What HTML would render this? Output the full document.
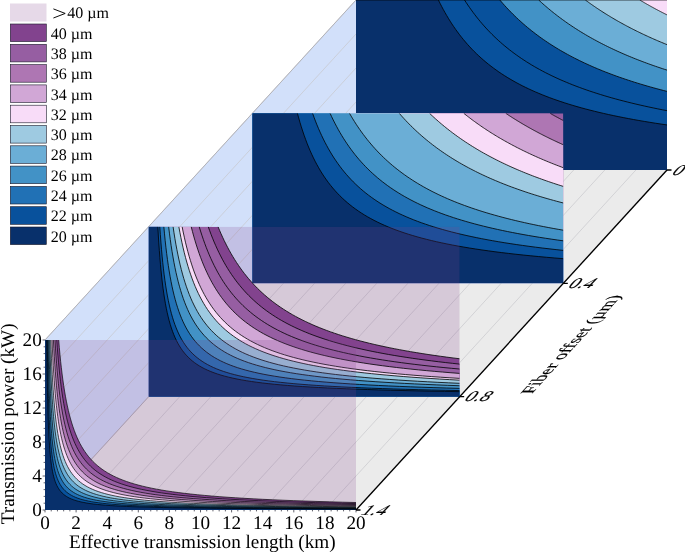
<!DOCTYPE html>
<html><head><meta charset="utf-8"><title>chart</title>
<style>html,body{margin:0;padding:0;background:#fff}body{width:685px;height:552px;overflow:hidden}svg{display:block;will-change:transform}text{font-family:"Liberation Serif",serif;fill:#000;text-rendering:geometricPrecision}</style></head><body>
<svg width="685" height="552" viewBox="0 0 685 552">
<rect width="685" height="552" fill="#fff"/>
<path d="M45 340 L45 510 L356 170 L356 0Z" fill="#d2e0fa"/>
<path d="M45 510 L356 510 L667 170 L356 170Z" fill="#ebebeb"/>
<path d="M45 510 L356 170 M45 476 L356 136 M45 442 L356 102 M45 408 L356 68 M45 374 L356 34 M45 340 L356 0 M76.1 510 L387.1 170 M107.2 510 L418.2 170 M138.3 510 L449.3 170 M169.4 510 L480.4 170 M200.5 510 L511.5 170 M231.6 510 L542.6 170 M262.7 510 L573.7 170 M293.8 510 L604.8 170 M324.9 510 L635.9 170 M356 510 L667 170" fill="none" stroke="#c7c7cb" stroke-width="0.7"/>
<path d="M45 340 L356 0 M45 510 L356 170" fill="none" stroke="#a9a9b0" stroke-width="0.8"/>
<defs>
<clipPath id="c0"><rect x="45" y="340" width="311" height="170"/></clipPath>
<clipPath id="c1"><rect x="148.67" y="226.67" width="311" height="170"/></clipPath>
<clipPath id="c2"><rect x="252.33" y="113.33" width="311" height="170"/></clipPath>
<clipPath id="c3"><rect x="356" y="0" width="311" height="170"/></clipPath>
</defs>
<g clip-path="url(#c3)">
<rect x="356" y="0" width="311" height="170" fill="#f8dcf8"/>
<path d="M356 170 L667 170 L667 14.88 L666.59 14.67 L666.19 14.47 L665.78 14.27 L665.38 14.06 L664.97 13.86 L664.57 13.65 L664.17 13.45 L663.76 13.24 L663.36 13.04 L662.96 12.83 L662.56 12.63 L662.16 12.42 L661.76 12.21 L661.36 12.01 L660.96 11.8 L660.56 11.59 L660.16 11.39 L659.76 11.18 L659.37 10.97 L658.97 10.76 L658.57 10.55 L658.18 10.35 L657.78 10.14 L657.39 9.93 L656.99 9.72 L656.6 9.51 L656.21 9.3 L655.82 9.09 L655.42 8.88 L655.03 8.67 L654.64 8.46 L654.25 8.24 L653.86 8.03 L653.47 7.82 L653.08 7.61 L652.69 7.4 L652.31 7.18 L651.92 6.97 L651.53 6.76 L651.15 6.54 L650.76 6.33 L650.37 6.11 L649.99 5.9 L649.61 5.68 L649.22 5.47 L648.84 5.25 L648.46 5.04 L648.07 4.82 L647.69 4.61 L647.31 4.39 L646.93 4.17 L646.55 3.96 L646.17 3.74 L645.79 3.52 L645.41 3.3 L645.03 3.08 L644.65 2.87 L644.28 2.65 L643.9 2.43 L643.52 2.21 L643.15 1.99 L642.77 1.77 L642.4 1.55 L642.02 1.33 L641.65 1.11 L641.28 0.89 L640.9 0.67 L640.53 0.44 L640.16 0.22 L639.79 0 L356 0Z" fill="#9ecae1"/>
<path d="M356 170 L667 170 L667 44.62 L665.65 44.08 L664.31 43.53 L662.97 42.98 L661.64 42.42 L660.31 41.87 L658.99 41.31 L657.67 40.75 L656.36 40.19 L655.06 39.62 L653.76 39.05 L652.47 38.48 L651.18 37.91 L649.9 37.33 L648.63 36.75 L647.36 36.17 L646.09 35.59 L644.83 35 L643.58 34.41 L642.33 33.82 L641.09 33.23 L639.85 32.63 L638.62 32.03 L637.39 31.43 L636.17 30.83 L634.95 30.22 L633.74 29.61 L632.54 29 L631.34 28.39 L630.14 27.77 L628.95 27.15 L627.77 26.53 L626.59 25.9 L625.41 25.27 L624.24 24.64 L623.08 24.01 L621.92 23.37 L620.77 22.73 L619.62 22.09 L618.47 21.45 L617.33 20.8 L616.2 20.15 L615.07 19.49 L613.95 18.84 L612.83 18.18 L611.71 17.52 L610.6 16.85 L609.5 16.18 L608.4 15.51 L607.3 14.84 L606.21 14.16 L605.12 13.49 L604.04 12.8 L602.97 12.12 L601.89 11.43 L600.83 10.74 L599.76 10.04 L598.71 9.35 L597.65 8.65 L596.6 7.94 L595.56 7.24 L594.52 6.53 L593.48 5.81 L592.45 5.1 L591.43 4.38 L590.41 3.66 L589.39 2.93 L588.38 2.2 L587.37 1.47 L586.36 0.74 L585.36 0 L356 0Z" fill="#6baed6"/>
<path d="M356 170 L667 170 L667 70.12 L664.65 69.36 L662.31 68.6 L659.99 67.82 L657.69 67.04 L655.41 66.26 L653.14 65.47 L650.89 64.67 L648.66 63.87 L646.44 63.06 L644.24 62.24 L642.06 61.42 L639.9 60.59 L637.75 59.76 L635.62 58.92 L633.5 58.07 L631.4 57.21 L629.31 56.35 L627.25 55.49 L625.19 54.61 L623.15 53.73 L621.13 52.85 L619.13 51.95 L617.13 51.05 L615.16 50.15 L613.2 49.23 L611.25 48.31 L609.32 47.38 L607.4 46.45 L605.5 45.5 L603.61 44.55 L601.73 43.6 L599.87 42.63 L598.03 41.66 L596.2 40.68 L594.38 39.7 L592.57 38.7 L590.78 37.7 L589 36.69 L587.24 35.68 L585.49 34.65 L583.75 33.62 L582.03 32.58 L580.32 31.53 L578.62 30.48 L576.94 29.41 L575.26 28.34 L573.6 27.26 L571.96 26.17 L570.32 25.07 L568.7 23.97 L567.09 22.85 L565.49 21.73 L563.91 20.6 L562.33 19.46 L560.77 18.31 L559.22 17.16 L557.68 15.99 L556.16 14.81 L554.64 13.63 L553.14 12.44 L551.64 11.24 L550.16 10.03 L548.69 8.81 L547.24 7.58 L545.79 6.34 L544.35 5.09 L542.93 3.83 L541.51 2.56 L540.11 1.29 L538.71 0 L356 0Z" fill="#4292c6"/>
<path d="M356 170 L667 170 L667 91.38 L663.59 90.5 L660.22 89.62 L656.89 88.73 L653.59 87.83 L650.33 86.92 L647.11 86 L643.92 85.07 L640.77 84.13 L637.65 83.18 L634.56 82.22 L631.51 81.25 L628.49 80.26 L625.51 79.27 L622.55 78.26 L619.63 77.25 L616.74 76.22 L613.89 75.18 L611.06 74.13 L608.27 73.07 L605.5 72 L602.77 70.91 L600.07 69.81 L597.39 68.7 L594.75 67.58 L592.13 66.45 L589.55 65.3 L586.99 64.14 L584.46 62.97 L581.95 61.78 L579.48 60.58 L577.03 59.37 L574.61 58.15 L572.21 56.91 L569.85 55.65 L567.5 54.39 L565.19 53.11 L562.89 51.81 L560.63 50.5 L558.39 49.18 L556.17 47.84 L553.98 46.49 L551.81 45.12 L549.66 43.74 L547.54 42.34 L545.44 40.92 L543.37 39.49 L541.31 38.05 L539.28 36.59 L537.28 35.11 L535.29 33.62 L533.33 32.1 L531.38 30.58 L529.46 29.03 L527.56 27.47 L525.68 25.89 L523.82 24.3 L521.98 22.68 L520.17 21.05 L518.37 19.4 L516.59 17.73 L514.83 16.05 L513.09 14.34 L511.37 12.62 L509.67 10.87 L507.98 9.11 L506.32 7.33 L504.67 5.53 L503.04 3.7 L501.43 1.86 L499.84 0 L356 0Z" fill="#08519c"/>
<path d="M356 170 L667 170 L667 110.67 L662.36 109.77 L657.79 108.86 L653.28 107.93 L648.84 106.99 L644.47 106.04 L640.17 105.07 L635.93 104.08 L631.75 103.09 L627.63 102.07 L623.58 101.04 L619.58 100 L615.65 98.94 L611.77 97.86 L607.96 96.77 L604.2 95.66 L600.49 94.53 L596.84 93.39 L593.25 92.23 L589.71 91.05 L586.22 89.85 L582.78 88.64 L579.4 87.4 L576.06 86.15 L572.78 84.88 L569.54 83.59 L566.35 82.28 L563.22 80.95 L560.12 79.61 L557.08 78.24 L554.07 76.84 L551.12 75.43 L548.21 74 L545.34 72.55 L542.51 71.07 L539.73 69.57 L536.98 68.05 L534.28 66.5 L531.62 64.94 L529 63.34 L526.42 61.73 L523.88 60.09 L521.37 58.42 L518.9 56.73 L516.47 55.01 L514.07 53.27 L511.72 51.5 L509.39 49.71 L507.1 47.89 L504.85 46.04 L502.62 44.16 L500.44 42.25 L498.28 40.32 L496.16 38.35 L494.06 36.36 L492 34.33 L489.97 32.27 L487.97 30.19 L486 28.07 L484.06 25.92 L482.15 23.74 L480.27 21.52 L478.41 19.27 L476.59 16.99 L474.79 14.67 L473.01 12.31 L471.27 9.92 L469.55 7.5 L467.85 5.04 L466.18 2.54 L464.54 0 L356 0Z" fill="#08519c"/>
<path d="M356 170 L667 170 L667 124.95 L661.16 124.09 L655.42 123.21 L649.79 122.31 L644.27 121.4 L638.85 120.47 L633.54 119.52 L628.32 118.55 L623.21 117.57 L618.18 116.56 L613.26 115.54 L608.42 114.5 L603.68 113.43 L599.02 112.35 L594.46 111.24 L589.98 110.12 L585.58 108.97 L581.26 107.8 L577.03 106.61 L572.88 105.4 L568.8 104.16 L564.8 102.9 L560.88 101.62 L557.03 100.31 L553.25 98.97 L549.54 97.61 L545.91 96.22 L542.34 94.81 L538.83 93.37 L535.4 91.9 L532.03 90.41 L528.72 88.88 L525.47 87.33 L522.29 85.75 L519.16 84.13 L516.1 82.49 L513.09 80.81 L510.14 79.1 L507.24 77.36 L504.4 75.59 L501.61 73.78 L498.87 71.94 L496.19 70.06 L493.55 68.14 L490.97 66.19 L488.43 64.2 L485.94 62.18 L483.5 60.11 L481.1 58.01 L478.75 55.86 L476.45 53.68 L474.18 51.45 L471.96 49.18 L469.78 46.87 L467.64 44.51 L465.55 42.1 L463.49 39.65 L461.47 37.16 L459.49 34.61 L457.54 32.02 L455.63 29.38 L453.76 26.68 L451.92 23.94 L450.12 21.14 L448.35 18.29 L446.62 15.38 L444.91 12.42 L443.24 9.41 L441.6 6.33 L439.99 3.19 L438.42 0 L356 0Z" fill="#08306b"/>
<path d="M667 124.95 L661.16 124.09 L655.42 123.21 L649.79 122.31 L644.27 121.4 L638.85 120.47 L633.54 119.52 L628.32 118.55 L623.21 117.57 L618.18 116.56 L613.26 115.54 L608.42 114.5 L603.68 113.43 L599.02 112.35 L594.46 111.24 L589.98 110.12 L585.58 108.97 L581.26 107.8 L577.03 106.61 L572.88 105.4 L568.8 104.16 L564.8 102.9 L560.88 101.62 L557.03 100.31 L553.25 98.97 L549.54 97.61 L545.91 96.22 L542.34 94.81 L538.83 93.37 L535.4 91.9 L532.03 90.41 L528.72 88.88 L525.47 87.33 L522.29 85.75 L519.16 84.13 L516.1 82.49 L513.09 80.81 L510.14 79.1 L507.24 77.36 L504.4 75.59 L501.61 73.78 L498.87 71.94 L496.19 70.06 L493.55 68.14 L490.97 66.19 L488.43 64.2 L485.94 62.18 L483.5 60.11 L481.1 58.01 L478.75 55.86 L476.45 53.68 L474.18 51.45 L471.96 49.18 L469.78 46.87 L467.64 44.51 L465.55 42.1 L463.49 39.65 L461.47 37.16 L459.49 34.61 L457.54 32.02 L455.63 29.38 L453.76 26.68 L451.92 23.94 L450.12 21.14 L448.35 18.29 L446.62 15.38 L444.91 12.42 L443.24 9.41 L441.6 6.33 L439.99 3.19 L438.42 0 M667 110.67 L662.36 109.77 L657.79 108.86 L653.28 107.93 L648.84 106.99 L644.47 106.04 L640.17 105.07 L635.93 104.08 L631.75 103.09 L627.63 102.07 L623.58 101.04 L619.58 100 L615.65 98.94 L611.77 97.86 L607.96 96.77 L604.2 95.66 L600.49 94.53 L596.84 93.39 L593.25 92.23 L589.71 91.05 L586.22 89.85 L582.78 88.64 L579.4 87.4 L576.06 86.15 L572.78 84.88 L569.54 83.59 L566.35 82.28 L563.22 80.95 L560.12 79.61 L557.08 78.24 L554.07 76.84 L551.12 75.43 L548.21 74 L545.34 72.55 L542.51 71.07 L539.73 69.57 L536.98 68.05 L534.28 66.5 L531.62 64.94 L529 63.34 L526.42 61.73 L523.88 60.09 L521.37 58.42 L518.9 56.73 L516.47 55.01 L514.07 53.27 L511.72 51.5 L509.39 49.71 L507.1 47.89 L504.85 46.04 L502.62 44.16 L500.44 42.25 L498.28 40.32 L496.16 38.35 L494.06 36.36 L492 34.33 L489.97 32.27 L487.97 30.19 L486 28.07 L484.06 25.92 L482.15 23.74 L480.27 21.52 L478.41 19.27 L476.59 16.99 L474.79 14.67 L473.01 12.31 L471.27 9.92 L469.55 7.5 L467.85 5.04 L466.18 2.54 L464.54 0 M667 91.38 L663.59 90.5 L660.22 89.62 L656.89 88.73 L653.59 87.83 L650.33 86.92 L647.11 86 L643.92 85.07 L640.77 84.13 L637.65 83.18 L634.56 82.22 L631.51 81.25 L628.49 80.26 L625.51 79.27 L622.55 78.26 L619.63 77.25 L616.74 76.22 L613.89 75.18 L611.06 74.13 L608.27 73.07 L605.5 72 L602.77 70.91 L600.07 69.81 L597.39 68.7 L594.75 67.58 L592.13 66.45 L589.55 65.3 L586.99 64.14 L584.46 62.97 L581.95 61.78 L579.48 60.58 L577.03 59.37 L574.61 58.15 L572.21 56.91 L569.85 55.65 L567.5 54.39 L565.19 53.11 L562.89 51.81 L560.63 50.5 L558.39 49.18 L556.17 47.84 L553.98 46.49 L551.81 45.12 L549.66 43.74 L547.54 42.34 L545.44 40.92 L543.37 39.49 L541.31 38.05 L539.28 36.59 L537.28 35.11 L535.29 33.62 L533.33 32.1 L531.38 30.58 L529.46 29.03 L527.56 27.47 L525.68 25.89 L523.82 24.3 L521.98 22.68 L520.17 21.05 L518.37 19.4 L516.59 17.73 L514.83 16.05 L513.09 14.34 L511.37 12.62 L509.67 10.87 L507.98 9.11 L506.32 7.33 L504.67 5.53 L503.04 3.7 L501.43 1.86 L499.84 0 M667 70.12 L664.65 69.36 L662.31 68.6 L659.99 67.82 L657.69 67.04 L655.41 66.26 L653.14 65.47 L650.89 64.67 L648.66 63.87 L646.44 63.06 L644.24 62.24 L642.06 61.42 L639.9 60.59 L637.75 59.76 L635.62 58.92 L633.5 58.07 L631.4 57.21 L629.31 56.35 L627.25 55.49 L625.19 54.61 L623.15 53.73 L621.13 52.85 L619.13 51.95 L617.13 51.05 L615.16 50.15 L613.2 49.23 L611.25 48.31 L609.32 47.38 L607.4 46.45 L605.5 45.5 L603.61 44.55 L601.73 43.6 L599.87 42.63 L598.03 41.66 L596.2 40.68 L594.38 39.7 L592.57 38.7 L590.78 37.7 L589 36.69 L587.24 35.68 L585.49 34.65 L583.75 33.62 L582.03 32.58 L580.32 31.53 L578.62 30.48 L576.94 29.41 L575.26 28.34 L573.6 27.26 L571.96 26.17 L570.32 25.07 L568.7 23.97 L567.09 22.85 L565.49 21.73 L563.91 20.6 L562.33 19.46 L560.77 18.31 L559.22 17.16 L557.68 15.99 L556.16 14.81 L554.64 13.63 L553.14 12.44 L551.64 11.24 L550.16 10.03 L548.69 8.81 L547.24 7.58 L545.79 6.34 L544.35 5.09 L542.93 3.83 L541.51 2.56 L540.11 1.29 L538.71 0 M667 44.62 L665.65 44.08 L664.31 43.53 L662.97 42.98 L661.64 42.42 L660.31 41.87 L658.99 41.31 L657.67 40.75 L656.36 40.19 L655.06 39.62 L653.76 39.05 L652.47 38.48 L651.18 37.91 L649.9 37.33 L648.63 36.75 L647.36 36.17 L646.09 35.59 L644.83 35 L643.58 34.41 L642.33 33.82 L641.09 33.23 L639.85 32.63 L638.62 32.03 L637.39 31.43 L636.17 30.83 L634.95 30.22 L633.74 29.61 L632.54 29 L631.34 28.39 L630.14 27.77 L628.95 27.15 L627.77 26.53 L626.59 25.9 L625.41 25.27 L624.24 24.64 L623.08 24.01 L621.92 23.37 L620.77 22.73 L619.62 22.09 L618.47 21.45 L617.33 20.8 L616.2 20.15 L615.07 19.49 L613.95 18.84 L612.83 18.18 L611.71 17.52 L610.6 16.85 L609.5 16.18 L608.4 15.51 L607.3 14.84 L606.21 14.16 L605.12 13.49 L604.04 12.8 L602.97 12.12 L601.89 11.43 L600.83 10.74 L599.76 10.04 L598.71 9.35 L597.65 8.65 L596.6 7.94 L595.56 7.24 L594.52 6.53 L593.48 5.81 L592.45 5.1 L591.43 4.38 L590.41 3.66 L589.39 2.93 L588.38 2.2 L587.37 1.47 L586.36 0.74 L585.36 0 M667 14.88 L666.59 14.67 L666.19 14.47 L665.78 14.27 L665.38 14.06 L664.97 13.86 L664.57 13.65 L664.17 13.45 L663.76 13.24 L663.36 13.04 L662.96 12.83 L662.56 12.63 L662.16 12.42 L661.76 12.21 L661.36 12.01 L660.96 11.8 L660.56 11.59 L660.16 11.39 L659.76 11.18 L659.37 10.97 L658.97 10.76 L658.57 10.55 L658.18 10.35 L657.78 10.14 L657.39 9.93 L656.99 9.72 L656.6 9.51 L656.21 9.3 L655.82 9.09 L655.42 8.88 L655.03 8.67 L654.64 8.46 L654.25 8.24 L653.86 8.03 L653.47 7.82 L653.08 7.61 L652.69 7.4 L652.31 7.18 L651.92 6.97 L651.53 6.76 L651.15 6.54 L650.76 6.33 L650.37 6.11 L649.99 5.9 L649.61 5.68 L649.22 5.47 L648.84 5.25 L648.46 5.04 L648.07 4.82 L647.69 4.61 L647.31 4.39 L646.93 4.17 L646.55 3.96 L646.17 3.74 L645.79 3.52 L645.41 3.3 L645.03 3.08 L644.65 2.87 L644.28 2.65 L643.9 2.43 L643.52 2.21 L643.15 1.99 L642.77 1.77 L642.4 1.55 L642.02 1.33 L641.65 1.11 L641.28 0.89 L640.9 0.67 L640.53 0.44 L640.16 0.22 L639.79 0" fill="none" stroke="#000" stroke-width="0.8" stroke-linejoin="round"/>
</g>
<g clip-path="url(#c2)">
<rect x="252.33" y="113.33" width="311" height="170" fill="#965ea2"/>
<path d="M252.33 283.33 L563.33 283.33 L563.33 120.56 L563.14 120.46 L562.95 120.36 L562.76 120.26 L562.56 120.15 L562.37 120.05 L562.18 119.95 L561.99 119.85 L561.79 119.75 L561.6 119.65 L561.41 119.55 L561.22 119.44 L561.03 119.34 L560.84 119.24 L560.64 119.14 L560.45 119.04 L560.26 118.93 L560.07 118.83 L559.88 118.73 L559.69 118.63 L559.5 118.53 L559.31 118.42 L559.12 118.32 L558.93 118.22 L558.74 118.12 L558.55 118.01 L558.36 117.91 L558.17 117.81 L557.98 117.71 L557.79 117.6 L557.6 117.5 L557.41 117.4 L557.22 117.29 L557.03 117.19 L556.84 117.09 L556.65 116.99 L556.46 116.88 L556.28 116.78 L556.09 116.68 L555.9 116.57 L555.71 116.47 L555.52 116.36 L555.33 116.26 L555.15 116.16 L554.96 116.05 L554.77 115.95 L554.58 115.85 L554.4 115.74 L554.21 115.64 L554.02 115.53 L553.83 115.43 L553.65 115.33 L553.46 115.22 L553.27 115.12 L553.09 115.01 L552.9 114.91 L552.71 114.8 L552.53 114.7 L552.34 114.59 L552.16 114.49 L551.97 114.38 L551.78 114.28 L551.6 114.18 L551.41 114.07 L551.23 113.96 L551.04 113.86 L550.86 113.75 L550.67 113.65 L550.49 113.54 L550.3 113.44 L550.12 113.33 L252.33 113.33Z" fill="#ae76b3"/>
<path d="M252.33 283.33 L563.33 283.33 L563.33 144.78 L562.43 144.38 L561.52 143.97 L560.62 143.56 L559.72 143.15 L558.82 142.74 L557.93 142.33 L557.04 141.92 L556.15 141.51 L555.26 141.09 L554.38 140.67 L553.49 140.26 L552.62 139.84 L551.74 139.42 L550.87 139 L549.99 138.57 L549.13 138.15 L548.26 137.73 L547.4 137.3 L546.54 136.87 L545.68 136.44 L544.82 136.01 L543.97 135.58 L543.12 135.15 L542.27 134.72 L541.42 134.28 L540.58 133.85 L539.74 133.41 L538.9 132.97 L538.06 132.53 L537.23 132.09 L536.4 131.65 L535.57 131.2 L534.74 130.76 L533.92 130.31 L533.1 129.86 L532.28 129.41 L531.46 128.96 L530.65 128.51 L529.83 128.06 L529.02 127.6 L528.22 127.15 L527.41 126.69 L526.61 126.23 L525.81 125.77 L525.01 125.31 L524.21 124.85 L523.42 124.38 L522.63 123.92 L521.84 123.45 L521.05 122.98 L520.27 122.52 L519.49 122.04 L518.71 121.57 L517.93 121.1 L517.16 120.62 L516.38 120.15 L515.61 119.67 L514.84 119.19 L514.08 118.71 L513.31 118.23 L512.55 117.75 L511.79 117.26 L511.04 116.78 L510.28 116.29 L509.53 115.8 L508.78 115.31 L508.03 114.82 L507.28 114.32 L506.54 113.83 L505.8 113.33 L252.33 113.33Z" fill="#d1a7d6"/>
<path d="M252.33 283.33 L563.33 283.33 L563.33 167.73 L561.62 167.09 L559.93 166.45 L558.24 165.81 L556.55 165.16 L554.88 164.5 L553.22 163.85 L551.57 163.19 L549.92 162.52 L548.29 161.86 L546.66 161.19 L545.05 160.51 L543.44 159.83 L541.84 159.15 L540.25 158.46 L538.67 157.77 L537.09 157.08 L535.53 156.38 L533.97 155.68 L532.42 154.98 L530.89 154.27 L529.35 153.55 L527.83 152.84 L526.32 152.12 L524.81 151.39 L523.32 150.66 L521.83 149.93 L520.35 149.19 L518.87 148.45 L517.41 147.71 L515.95 146.96 L514.51 146.2 L513.06 145.45 L511.63 144.68 L510.21 143.92 L508.79 143.15 L507.38 142.37 L505.98 141.59 L504.59 140.81 L503.2 140.02 L501.82 139.23 L500.45 138.44 L499.09 137.64 L497.73 136.83 L496.38 136.02 L495.04 135.21 L493.71 134.39 L492.38 133.57 L491.06 132.74 L489.75 131.91 L488.45 131.07 L487.15 130.23 L485.86 129.38 L484.58 128.53 L483.3 127.68 L482.03 126.82 L480.77 125.95 L479.52 125.08 L478.27 124.21 L477.03 123.33 L475.79 122.45 L474.56 121.56 L473.34 120.66 L472.13 119.76 L470.92 118.86 L469.72 117.95 L468.53 117.04 L467.34 116.12 L466.16 115.2 L464.98 114.27 L463.81 113.33 L252.33 113.33Z" fill="#f8dcf8"/>
<path d="M252.33 283.33 L563.33 283.33 L563.33 186.43 L560.85 185.65 L558.38 184.86 L555.93 184.07 L553.5 183.27 L551.09 182.46 L548.7 181.65 L546.33 180.83 L543.98 180 L541.65 179.17 L539.34 178.33 L537.04 177.48 L534.76 176.63 L532.5 175.77 L530.26 174.9 L528.04 174.03 L525.84 173.15 L523.65 172.26 L521.48 171.36 L519.33 170.46 L517.19 169.55 L515.07 168.63 L512.97 167.71 L510.89 166.78 L508.82 165.84 L506.77 164.89 L504.73 163.93 L502.71 162.97 L500.71 162 L498.72 161.02 L496.75 160.04 L494.8 159.04 L492.86 158.04 L490.93 157.03 L489.03 156.01 L487.13 154.99 L485.26 153.95 L483.39 152.91 L481.54 151.86 L479.71 150.8 L477.89 149.73 L476.09 148.65 L474.3 147.56 L472.52 146.47 L470.76 145.37 L469.02 144.25 L467.28 143.13 L465.56 142 L463.86 140.86 L462.17 139.71 L460.49 138.56 L458.82 137.39 L457.17 136.21 L455.53 135.03 L453.91 133.83 L452.3 132.63 L450.7 131.41 L449.11 130.19 L447.54 128.95 L445.97 127.71 L444.43 126.45 L442.89 125.19 L441.37 123.91 L439.85 122.63 L438.35 121.33 L436.87 120.02 L435.39 118.71 L433.93 117.38 L432.47 116.04 L431.03 114.69 L429.6 113.33 L252.33 113.33Z" fill="#9ecae1"/>
<path d="M252.33 283.33 L563.33 283.33 L563.33 203.01 L560.02 202.14 L556.74 201.27 L553.5 200.39 L550.29 199.49 L547.12 198.59 L543.98 197.68 L540.87 196.75 L537.8 195.82 L534.75 194.88 L531.75 193.93 L528.77 192.97 L525.82 191.99 L522.91 191.01 L520.03 190.01 L517.18 189.01 L514.36 187.99 L511.56 186.97 L508.8 185.93 L506.07 184.88 L503.37 183.82 L500.69 182.75 L498.05 181.67 L495.43 180.57 L492.84 179.46 L490.28 178.35 L487.74 177.22 L485.23 176.07 L482.75 174.92 L480.3 173.75 L477.87 172.57 L475.47 171.38 L473.09 170.17 L470.74 168.95 L468.41 167.72 L466.11 166.48 L463.83 165.22 L461.58 163.95 L459.35 162.66 L457.15 161.36 L454.96 160.05 L452.8 158.72 L450.67 157.38 L448.56 156.02 L446.47 154.65 L444.4 153.27 L442.35 151.87 L440.33 150.45 L438.32 149.02 L436.34 147.57 L434.38 146.11 L432.44 144.63 L430.53 143.14 L428.63 141.63 L426.75 140.11 L424.89 138.56 L423.05 137 L421.23 135.43 L419.43 133.84 L417.65 132.23 L415.89 130.6 L414.15 128.96 L412.43 127.29 L410.72 125.61 L409.03 123.91 L407.36 122.2 L405.71 120.46 L404.08 118.71 L402.46 116.94 L400.86 115.14 L399.28 113.33 L252.33 113.33Z" fill="#6baed6"/>
<path d="M252.33 283.33 L563.33 283.33 L563.33 230.21 L558.21 229.32 L553.17 228.41 L548.21 227.49 L543.33 226.56 L538.54 225.61 L533.82 224.64 L529.18 223.66 L524.62 222.66 L520.13 221.64 L515.72 220.61 L511.38 219.55 L507.11 218.49 L502.91 217.4 L498.78 216.29 L494.72 215.17 L490.73 214.03 L486.8 212.87 L482.94 211.69 L479.14 210.49 L475.4 209.27 L471.72 208.02 L468.11 206.76 L464.55 205.48 L461.05 204.18 L457.61 202.85 L454.23 201.5 L450.9 200.13 L447.63 198.74 L444.41 197.32 L441.25 195.88 L438.14 194.41 L435.07 192.92 L432.06 191.41 L429.1 189.87 L426.19 188.3 L423.32 186.71 L420.5 185.09 L417.73 183.44 L415.01 181.77 L412.33 180.07 L409.69 178.34 L407.1 176.58 L404.55 174.79 L402.04 172.97 L399.57 171.12 L397.15 169.24 L394.76 167.33 L392.41 165.39 L390.1 163.41 L387.83 161.4 L385.6 159.36 L383.4 157.28 L381.24 155.17 L379.12 153.02 L377.03 150.84 L374.98 148.62 L372.95 146.36 L370.97 144.07 L369.01 141.73 L367.09 139.36 L365.2 136.95 L363.34 134.49 L361.51 132 L359.71 129.46 L357.94 126.89 L356.2 124.27 L354.49 121.6 L352.8 118.89 L351.15 116.13 L349.52 113.33 L252.33 113.33Z" fill="#4292c6"/>
<path d="M252.33 283.33 L563.33 283.33 L563.33 240.83 L557.23 239.98 L551.26 239.12 L545.39 238.23 L539.65 237.33 L534.01 236.41 L528.49 235.47 L523.07 234.51 L517.77 233.54 L512.56 232.54 L507.46 231.53 L502.45 230.49 L497.55 229.43 L492.74 228.35 L488.03 227.25 L483.41 226.13 L478.87 224.99 L474.43 223.82 L470.08 222.63 L465.81 221.42 L461.62 220.18 L457.52 218.92 L453.49 217.63 L449.55 216.31 L445.68 214.97 L441.89 213.6 L438.17 212.21 L434.53 210.79 L430.96 209.34 L427.45 207.86 L424.02 206.35 L420.65 204.81 L417.35 203.24 L414.12 201.63 L410.94 200 L407.83 198.33 L404.78 196.63 L401.79 194.9 L398.86 193.13 L395.99 191.33 L393.17 189.49 L390.41 187.61 L387.7 185.69 L385.05 183.74 L382.45 181.75 L379.9 179.72 L377.39 177.64 L374.94 175.53 L372.54 173.37 L370.18 171.18 L367.87 168.93 L365.6 166.64 L363.38 164.31 L361.21 161.93 L359.07 159.5 L356.98 157.02 L354.93 154.5 L352.91 151.92 L350.94 149.29 L349.01 146.61 L347.11 143.88 L345.25 141.09 L343.43 138.24 L341.64 135.34 L339.89 132.38 L338.18 129.36 L336.49 126.28 L334.84 123.14 L333.22 119.94 L331.64 116.67 L330.08 113.33 L252.33 113.33Z" fill="#2171b5"/>
<path d="M252.33 283.33 L563.33 283.33 L563.33 250.4 L556.13 249.61 L549.09 248.81 L542.21 248 L535.49 247.16 L528.93 246.3 L522.52 245.42 L516.26 244.52 L510.14 243.6 L504.17 242.66 L498.33 241.69 L492.63 240.71 L487.07 239.69 L481.63 238.66 L476.31 237.6 L471.12 236.51 L466.05 235.4 L461.1 234.27 L456.26 233.1 L451.54 231.91 L446.92 230.69 L442.41 229.44 L438.01 228.16 L433.7 226.85 L429.5 225.52 L425.4 224.14 L421.39 222.74 L417.47 221.3 L413.64 219.83 L409.9 218.32 L406.25 216.78 L402.69 215.2 L399.2 213.59 L395.8 211.93 L392.47 210.24 L389.23 208.5 L386.05 206.73 L382.96 204.91 L379.93 203.05 L376.97 201.15 L374.08 199.2 L371.26 197.2 L368.51 195.16 L365.81 193.07 L363.18 190.93 L360.62 188.73 L358.11 186.49 L355.66 184.19 L353.26 181.84 L350.92 179.43 L348.64 176.97 L346.41 174.44 L344.23 171.86 L342.1 169.22 L340.02 166.51 L337.99 163.74 L336 160.9 L334.06 158 L332.17 155.02 L330.32 151.98 L328.51 148.86 L326.75 145.67 L325.02 142.41 L323.34 139.06 L321.69 135.64 L320.08 132.14 L318.51 128.55 L316.98 124.88 L315.48 121.12 L314.02 117.27 L312.59 113.33 L252.33 113.33Z" fill="#08519c"/>
<path d="M252.33 283.33 L563.33 283.33 L563.33 258.68 L554.87 257.99 L546.64 257.29 L538.63 256.56 L530.84 255.81 L523.26 255.04 L515.89 254.25 L508.72 253.43 L501.74 252.6 L494.96 251.74 L488.36 250.85 L481.94 249.94 L475.69 249.01 L469.61 248.05 L463.7 247.06 L457.95 246.05 L452.35 245.01 L446.91 243.93 L441.62 242.83 L436.47 241.7 L431.46 240.54 L426.58 239.34 L421.84 238.11 L417.23 236.84 L412.74 235.54 L408.38 234.21 L404.13 232.83 L400 231.42 L395.98 229.97 L392.08 228.47 L388.27 226.94 L384.57 225.36 L380.98 223.74 L377.48 222.07 L374.07 220.36 L370.76 218.6 L367.54 216.79 L364.4 214.93 L361.35 213.01 L358.39 211.05 L355.5 209.03 L352.69 206.95 L349.96 204.81 L347.31 202.61 L344.72 200.36 L342.21 198.04 L339.76 195.65 L337.38 193.2 L335.07 190.68 L332.82 188.08 L330.63 185.42 L328.5 182.68 L326.43 179.87 L324.41 176.97 L322.45 174 L320.54 170.94 L318.69 167.8 L316.88 164.56 L315.12 161.24 L313.42 157.83 L311.75 154.32 L310.14 150.71 L308.56 147 L307.03 143.19 L305.55 139.27 L304.1 135.24 L302.69 131.09 L301.32 126.84 L299.99 122.46 L298.69 117.96 L297.43 113.33 L252.33 113.33Z" fill="#08306b"/>
<path d="M563.33 258.68 L554.87 257.99 L546.64 257.29 L538.63 256.56 L530.84 255.81 L523.26 255.04 L515.89 254.25 L508.72 253.43 L501.74 252.6 L494.96 251.74 L488.36 250.85 L481.94 249.94 L475.69 249.01 L469.61 248.05 L463.7 247.06 L457.95 246.05 L452.35 245.01 L446.91 243.93 L441.62 242.83 L436.47 241.7 L431.46 240.54 L426.58 239.34 L421.84 238.11 L417.23 236.84 L412.74 235.54 L408.38 234.21 L404.13 232.83 L400 231.42 L395.98 229.97 L392.08 228.47 L388.27 226.94 L384.57 225.36 L380.98 223.74 L377.48 222.07 L374.07 220.36 L370.76 218.6 L367.54 216.79 L364.4 214.93 L361.35 213.01 L358.39 211.05 L355.5 209.03 L352.69 206.95 L349.96 204.81 L347.31 202.61 L344.72 200.36 L342.21 198.04 L339.76 195.65 L337.38 193.2 L335.07 190.68 L332.82 188.08 L330.63 185.42 L328.5 182.68 L326.43 179.87 L324.41 176.97 L322.45 174 L320.54 170.94 L318.69 167.8 L316.88 164.56 L315.12 161.24 L313.42 157.83 L311.75 154.32 L310.14 150.71 L308.56 147 L307.03 143.19 L305.55 139.27 L304.1 135.24 L302.69 131.09 L301.32 126.84 L299.99 122.46 L298.69 117.96 L297.43 113.33 M563.33 250.4 L556.13 249.61 L549.09 248.81 L542.21 248 L535.49 247.16 L528.93 246.3 L522.52 245.42 L516.26 244.52 L510.14 243.6 L504.17 242.66 L498.33 241.69 L492.63 240.71 L487.07 239.69 L481.63 238.66 L476.31 237.6 L471.12 236.51 L466.05 235.4 L461.1 234.27 L456.26 233.1 L451.54 231.91 L446.92 230.69 L442.41 229.44 L438.01 228.16 L433.7 226.85 L429.5 225.52 L425.4 224.14 L421.39 222.74 L417.47 221.3 L413.64 219.83 L409.9 218.32 L406.25 216.78 L402.69 215.2 L399.2 213.59 L395.8 211.93 L392.47 210.24 L389.23 208.5 L386.05 206.73 L382.96 204.91 L379.93 203.05 L376.97 201.15 L374.08 199.2 L371.26 197.2 L368.51 195.16 L365.81 193.07 L363.18 190.93 L360.62 188.73 L358.11 186.49 L355.66 184.19 L353.26 181.84 L350.92 179.43 L348.64 176.97 L346.41 174.44 L344.23 171.86 L342.1 169.22 L340.02 166.51 L337.99 163.74 L336 160.9 L334.06 158 L332.17 155.02 L330.32 151.98 L328.51 148.86 L326.75 145.67 L325.02 142.41 L323.34 139.06 L321.69 135.64 L320.08 132.14 L318.51 128.55 L316.98 124.88 L315.48 121.12 L314.02 117.27 L312.59 113.33 M563.33 240.83 L557.23 239.98 L551.26 239.12 L545.39 238.23 L539.65 237.33 L534.01 236.41 L528.49 235.47 L523.07 234.51 L517.77 233.54 L512.56 232.54 L507.46 231.53 L502.45 230.49 L497.55 229.43 L492.74 228.35 L488.03 227.25 L483.41 226.13 L478.87 224.99 L474.43 223.82 L470.08 222.63 L465.81 221.42 L461.62 220.18 L457.52 218.92 L453.49 217.63 L449.55 216.31 L445.68 214.97 L441.89 213.6 L438.17 212.21 L434.53 210.79 L430.96 209.34 L427.45 207.86 L424.02 206.35 L420.65 204.81 L417.35 203.24 L414.12 201.63 L410.94 200 L407.83 198.33 L404.78 196.63 L401.79 194.9 L398.86 193.13 L395.99 191.33 L393.17 189.49 L390.41 187.61 L387.7 185.69 L385.05 183.74 L382.45 181.75 L379.9 179.72 L377.39 177.64 L374.94 175.53 L372.54 173.37 L370.18 171.18 L367.87 168.93 L365.6 166.64 L363.38 164.31 L361.21 161.93 L359.07 159.5 L356.98 157.02 L354.93 154.5 L352.91 151.92 L350.94 149.29 L349.01 146.61 L347.11 143.88 L345.25 141.09 L343.43 138.24 L341.64 135.34 L339.89 132.38 L338.18 129.36 L336.49 126.28 L334.84 123.14 L333.22 119.94 L331.64 116.67 L330.08 113.33 M563.33 230.21 L558.21 229.32 L553.17 228.41 L548.21 227.49 L543.33 226.56 L538.54 225.61 L533.82 224.64 L529.18 223.66 L524.62 222.66 L520.13 221.64 L515.72 220.61 L511.38 219.55 L507.11 218.49 L502.91 217.4 L498.78 216.29 L494.72 215.17 L490.73 214.03 L486.8 212.87 L482.94 211.69 L479.14 210.49 L475.4 209.27 L471.72 208.02 L468.11 206.76 L464.55 205.48 L461.05 204.18 L457.61 202.85 L454.23 201.5 L450.9 200.13 L447.63 198.74 L444.41 197.32 L441.25 195.88 L438.14 194.41 L435.07 192.92 L432.06 191.41 L429.1 189.87 L426.19 188.3 L423.32 186.71 L420.5 185.09 L417.73 183.44 L415.01 181.77 L412.33 180.07 L409.69 178.34 L407.1 176.58 L404.55 174.79 L402.04 172.97 L399.57 171.12 L397.15 169.24 L394.76 167.33 L392.41 165.39 L390.1 163.41 L387.83 161.4 L385.6 159.36 L383.4 157.28 L381.24 155.17 L379.12 153.02 L377.03 150.84 L374.98 148.62 L372.95 146.36 L370.97 144.07 L369.01 141.73 L367.09 139.36 L365.2 136.95 L363.34 134.49 L361.51 132 L359.71 129.46 L357.94 126.89 L356.2 124.27 L354.49 121.6 L352.8 118.89 L351.15 116.13 L349.52 113.33 M563.33 203.01 L560.02 202.14 L556.74 201.27 L553.5 200.39 L550.29 199.49 L547.12 198.59 L543.98 197.68 L540.87 196.75 L537.8 195.82 L534.75 194.88 L531.75 193.93 L528.77 192.97 L525.82 191.99 L522.91 191.01 L520.03 190.01 L517.18 189.01 L514.36 187.99 L511.56 186.97 L508.8 185.93 L506.07 184.88 L503.37 183.82 L500.69 182.75 L498.05 181.67 L495.43 180.57 L492.84 179.46 L490.28 178.35 L487.74 177.22 L485.23 176.07 L482.75 174.92 L480.3 173.75 L477.87 172.57 L475.47 171.38 L473.09 170.17 L470.74 168.95 L468.41 167.72 L466.11 166.48 L463.83 165.22 L461.58 163.95 L459.35 162.66 L457.15 161.36 L454.96 160.05 L452.8 158.72 L450.67 157.38 L448.56 156.02 L446.47 154.65 L444.4 153.27 L442.35 151.87 L440.33 150.45 L438.32 149.02 L436.34 147.57 L434.38 146.11 L432.44 144.63 L430.53 143.14 L428.63 141.63 L426.75 140.11 L424.89 138.56 L423.05 137 L421.23 135.43 L419.43 133.84 L417.65 132.23 L415.89 130.6 L414.15 128.96 L412.43 127.29 L410.72 125.61 L409.03 123.91 L407.36 122.2 L405.71 120.46 L404.08 118.71 L402.46 116.94 L400.86 115.14 L399.28 113.33 M563.33 186.43 L560.85 185.65 L558.38 184.86 L555.93 184.07 L553.5 183.27 L551.09 182.46 L548.7 181.65 L546.33 180.83 L543.98 180 L541.65 179.17 L539.34 178.33 L537.04 177.48 L534.76 176.63 L532.5 175.77 L530.26 174.9 L528.04 174.03 L525.84 173.15 L523.65 172.26 L521.48 171.36 L519.33 170.46 L517.19 169.55 L515.07 168.63 L512.97 167.71 L510.89 166.78 L508.82 165.84 L506.77 164.89 L504.73 163.93 L502.71 162.97 L500.71 162 L498.72 161.02 L496.75 160.04 L494.8 159.04 L492.86 158.04 L490.93 157.03 L489.03 156.01 L487.13 154.99 L485.26 153.95 L483.39 152.91 L481.54 151.86 L479.71 150.8 L477.89 149.73 L476.09 148.65 L474.3 147.56 L472.52 146.47 L470.76 145.37 L469.02 144.25 L467.28 143.13 L465.56 142 L463.86 140.86 L462.17 139.71 L460.49 138.56 L458.82 137.39 L457.17 136.21 L455.53 135.03 L453.91 133.83 L452.3 132.63 L450.7 131.41 L449.11 130.19 L447.54 128.95 L445.97 127.71 L444.43 126.45 L442.89 125.19 L441.37 123.91 L439.85 122.63 L438.35 121.33 L436.87 120.02 L435.39 118.71 L433.93 117.38 L432.47 116.04 L431.03 114.69 L429.6 113.33 M563.33 167.73 L561.62 167.09 L559.93 166.45 L558.24 165.81 L556.55 165.16 L554.88 164.5 L553.22 163.85 L551.57 163.19 L549.92 162.52 L548.29 161.86 L546.66 161.19 L545.05 160.51 L543.44 159.83 L541.84 159.15 L540.25 158.46 L538.67 157.77 L537.09 157.08 L535.53 156.38 L533.97 155.68 L532.42 154.98 L530.89 154.27 L529.35 153.55 L527.83 152.84 L526.32 152.12 L524.81 151.39 L523.32 150.66 L521.83 149.93 L520.35 149.19 L518.87 148.45 L517.41 147.71 L515.95 146.96 L514.51 146.2 L513.06 145.45 L511.63 144.68 L510.21 143.92 L508.79 143.15 L507.38 142.37 L505.98 141.59 L504.59 140.81 L503.2 140.02 L501.82 139.23 L500.45 138.44 L499.09 137.64 L497.73 136.83 L496.38 136.02 L495.04 135.21 L493.71 134.39 L492.38 133.57 L491.06 132.74 L489.75 131.91 L488.45 131.07 L487.15 130.23 L485.86 129.38 L484.58 128.53 L483.3 127.68 L482.03 126.82 L480.77 125.95 L479.52 125.08 L478.27 124.21 L477.03 123.33 L475.79 122.45 L474.56 121.56 L473.34 120.66 L472.13 119.76 L470.92 118.86 L469.72 117.95 L468.53 117.04 L467.34 116.12 L466.16 115.2 L464.98 114.27 L463.81 113.33 M563.33 144.78 L562.43 144.38 L561.52 143.97 L560.62 143.56 L559.72 143.15 L558.82 142.74 L557.93 142.33 L557.04 141.92 L556.15 141.51 L555.26 141.09 L554.38 140.67 L553.49 140.26 L552.62 139.84 L551.74 139.42 L550.87 139 L549.99 138.57 L549.13 138.15 L548.26 137.73 L547.4 137.3 L546.54 136.87 L545.68 136.44 L544.82 136.01 L543.97 135.58 L543.12 135.15 L542.27 134.72 L541.42 134.28 L540.58 133.85 L539.74 133.41 L538.9 132.97 L538.06 132.53 L537.23 132.09 L536.4 131.65 L535.57 131.2 L534.74 130.76 L533.92 130.31 L533.1 129.86 L532.28 129.41 L531.46 128.96 L530.65 128.51 L529.83 128.06 L529.02 127.6 L528.22 127.15 L527.41 126.69 L526.61 126.23 L525.81 125.77 L525.01 125.31 L524.21 124.85 L523.42 124.38 L522.63 123.92 L521.84 123.45 L521.05 122.98 L520.27 122.52 L519.49 122.04 L518.71 121.57 L517.93 121.1 L517.16 120.62 L516.38 120.15 L515.61 119.67 L514.84 119.19 L514.08 118.71 L513.31 118.23 L512.55 117.75 L511.79 117.26 L511.04 116.78 L510.28 116.29 L509.53 115.8 L508.78 115.31 L508.03 114.82 L507.28 114.32 L506.54 113.83 L505.8 113.33 M563.33 120.56 L563.14 120.46 L562.95 120.36 L562.76 120.26 L562.56 120.15 L562.37 120.05 L562.18 119.95 L561.99 119.85 L561.79 119.75 L561.6 119.65 L561.41 119.55 L561.22 119.44 L561.03 119.34 L560.84 119.24 L560.64 119.14 L560.45 119.04 L560.26 118.93 L560.07 118.83 L559.88 118.73 L559.69 118.63 L559.5 118.53 L559.31 118.42 L559.12 118.32 L558.93 118.22 L558.74 118.12 L558.55 118.01 L558.36 117.91 L558.17 117.81 L557.98 117.71 L557.79 117.6 L557.6 117.5 L557.41 117.4 L557.22 117.29 L557.03 117.19 L556.84 117.09 L556.65 116.99 L556.46 116.88 L556.28 116.78 L556.09 116.68 L555.9 116.57 L555.71 116.47 L555.52 116.36 L555.33 116.26 L555.15 116.16 L554.96 116.05 L554.77 115.95 L554.58 115.85 L554.4 115.74 L554.21 115.64 L554.02 115.53 L553.83 115.43 L553.65 115.33 L553.46 115.22 L553.27 115.12 L553.09 115.01 L552.9 114.91 L552.71 114.8 L552.53 114.7 L552.34 114.59 L552.16 114.49 L551.97 114.38 L551.78 114.28 L551.6 114.18 L551.41 114.07 L551.23 113.96 L551.04 113.86 L550.86 113.75 L550.67 113.65 L550.49 113.54 L550.3 113.44 L550.12 113.33" fill="none" stroke="#000" stroke-width="0.8" stroke-linejoin="round"/>
</g>
<g clip-path="url(#c1)">
<path d="M459.67 358.76 L453.07 357.94 L446.61 357.1 L440.3 356.24 L434.11 355.36 L428.06 354.47 L422.13 353.55 L416.33 352.62 L410.65 351.66 L405.1 350.69 L399.66 349.69 L394.34 348.68 L389.13 347.64 L384.03 346.57 L379.03 345.49 L374.15 344.38 L369.37 343.25 L364.69 342.09 L360.1 340.91 L355.62 339.7 L351.23 338.46 L346.93 337.2 L342.73 335.91 L338.61 334.6 L334.58 333.25 L330.64 331.88 L326.78 330.47 L323 329.04 L319.31 327.57 L315.69 326.08 L312.15 324.55 L308.68 322.98 L305.29 321.39 L301.96 319.76 L298.71 318.09 L295.53 316.39 L292.42 314.65 L289.37 312.87 L286.38 311.06 L283.46 309.2 L280.6 307.31 L277.8 305.37 L275.07 303.39 L272.38 301.37 L269.76 299.3 L267.19 297.19 L264.68 295.04 L262.22 292.84 L259.81 290.59 L257.45 288.29 L255.15 285.94 L252.89 283.54 L250.68 281.09 L248.51 278.59 L246.4 276.03 L244.32 273.41 L242.29 270.74 L240.31 268.01 L238.37 265.23 L236.46 262.38 L234.6 259.47 L232.78 256.5 L230.99 253.46 L229.25 250.35 L227.54 247.18 L225.87 243.95 L224.23 240.64 L222.63 237.26 L221.06 233.8 L219.52 230.27 L218.02 226.67 L459.67 226.67Z" fill="rgba(130,67,142,0.20)"/>
<path d="M148.67 396.67 L459.67 396.67 L459.67 358.76 L453.07 357.94 L446.61 357.1 L440.3 356.24 L434.11 355.36 L428.06 354.47 L422.13 353.55 L416.33 352.62 L410.65 351.66 L405.1 350.69 L399.66 349.69 L394.34 348.68 L389.13 347.64 L384.03 346.57 L379.03 345.49 L374.15 344.38 L369.37 343.25 L364.69 342.09 L360.1 340.91 L355.62 339.7 L351.23 338.46 L346.93 337.2 L342.73 335.91 L338.61 334.6 L334.58 333.25 L330.64 331.88 L326.78 330.47 L323 329.04 L319.31 327.57 L315.69 326.08 L312.15 324.55 L308.68 322.98 L305.29 321.39 L301.96 319.76 L298.71 318.09 L295.53 316.39 L292.42 314.65 L289.37 312.87 L286.38 311.06 L283.46 309.2 L280.6 307.31 L277.8 305.37 L275.07 303.39 L272.38 301.37 L269.76 299.3 L267.19 297.19 L264.68 295.04 L262.22 292.84 L259.81 290.59 L257.45 288.29 L255.15 285.94 L252.89 283.54 L250.68 281.09 L248.51 278.59 L246.4 276.03 L244.32 273.41 L242.29 270.74 L240.31 268.01 L238.37 265.23 L236.46 262.38 L234.6 259.47 L232.78 256.5 L230.99 253.46 L229.25 250.35 L227.54 247.18 L225.87 243.95 L224.23 240.64 L222.63 237.26 L221.06 233.8 L219.52 230.27 L218.02 226.67 L148.67 226.67Z" fill="#82438e"/>
<path d="M148.67 396.67 L459.67 396.67 L459.67 364.11 L452.41 363.33 L445.32 362.54 L438.4 361.72 L431.64 360.89 L425.03 360.03 L418.58 359.16 L412.29 358.26 L406.13 357.34 L400.13 356.4 L394.26 355.44 L388.53 354.46 L382.93 353.45 L377.46 352.42 L372.12 351.36 L366.91 350.28 L361.82 349.17 L356.84 348.03 L351.98 346.87 L347.24 345.68 L342.61 344.46 L338.08 343.21 L333.66 341.94 L329.34 340.63 L325.13 339.29 L321.01 337.92 L316.99 336.52 L313.06 335.08 L309.22 333.61 L305.48 332.1 L301.82 330.56 L298.24 328.98 L294.75 327.36 L291.34 325.7 L288.01 324.01 L284.76 322.27 L281.59 320.5 L278.48 318.68 L275.46 316.81 L272.5 314.9 L269.61 312.95 L266.78 310.95 L264.03 308.9 L261.34 306.81 L258.71 304.66 L256.14 302.46 L253.63 300.21 L251.18 297.9 L248.79 295.54 L246.45 293.13 L244.17 290.65 L241.94 288.12 L239.77 285.53 L237.64 282.87 L235.56 280.15 L233.54 277.37 L231.56 274.52 L229.62 271.6 L227.73 268.61 L225.89 265.55 L224.08 262.42 L222.32 259.21 L220.61 255.93 L218.93 252.57 L217.29 249.12 L215.69 245.6 L214.12 241.99 L212.59 238.29 L211.1 234.51 L209.65 230.63 L208.22 226.67 L148.67 226.67Z" fill="#965ea2"/>
<path d="M148.67 396.67 L459.67 396.67 L459.67 369.04 L451.7 368.32 L443.93 367.57 L436.37 366.8 L428.99 366.02 L421.81 365.21 L414.81 364.39 L407.99 363.54 L401.35 362.67 L394.87 361.77 L388.56 360.85 L382.42 359.91 L376.43 358.95 L370.59 357.95 L364.9 356.94 L359.36 355.89 L353.96 354.82 L348.7 353.72 L343.58 352.59 L338.58 351.43 L333.72 350.24 L328.98 349.02 L324.35 347.77 L319.85 346.48 L315.47 345.16 L311.19 343.81 L307.03 342.41 L302.97 340.99 L299.02 339.52 L295.16 338.02 L291.41 336.48 L287.75 334.9 L284.19 333.27 L280.72 331.6 L277.33 329.89 L274.03 328.14 L270.82 326.34 L267.69 324.49 L264.64 322.59 L261.67 320.64 L258.77 318.64 L255.95 316.59 L253.2 314.48 L250.53 312.32 L247.92 310.1 L245.37 307.83 L242.89 305.49 L240.48 303.09 L238.13 300.63 L235.83 298.11 L233.6 295.51 L231.42 292.85 L229.3 290.12 L227.24 287.32 L225.22 284.45 L223.26 281.49 L221.35 278.47 L219.49 275.36 L217.67 272.17 L215.91 268.89 L214.18 265.53 L212.5 262.08 L210.87 258.55 L209.27 254.91 L207.72 251.19 L206.21 247.36 L204.73 243.43 L203.3 239.4 L201.9 235.27 L200.53 231.02 L199.2 226.67 L148.67 226.67Z" fill="#965ea2"/>
<path d="M148.67 396.67 L459.67 396.67 L459.67 373.42 L450.95 372.75 L442.48 372.06 L434.25 371.35 L426.24 370.62 L418.47 369.87 L410.91 369.1 L403.56 368.3 L396.41 367.48 L389.47 366.64 L382.72 365.78 L376.16 364.89 L369.79 363.97 L363.59 363.03 L357.57 362.06 L351.72 361.06 L346.03 360.03 L340.5 358.98 L335.12 357.89 L329.9 356.77 L324.82 355.62 L319.88 354.44 L315.08 353.22 L310.42 351.97 L305.89 350.68 L301.48 349.35 L297.2 347.99 L293.04 346.59 L288.99 345.14 L285.06 343.66 L281.24 342.13 L277.52 340.56 L273.91 338.94 L270.4 337.28 L266.99 335.56 L263.67 333.8 L260.45 331.99 L257.32 330.12 L254.27 328.21 L251.31 326.23 L248.44 324.2 L245.64 322.11 L242.92 319.96 L240.28 317.75 L237.72 315.48 L235.22 313.13 L232.79 310.73 L230.44 308.25 L228.15 305.7 L225.92 303.08 L223.75 300.38 L221.65 297.6 L219.6 294.75 L217.62 291.81 L215.68 288.79 L213.81 285.67 L211.98 282.48 L210.21 279.18 L208.48 275.8 L206.81 272.31 L205.18 268.73 L203.59 265.04 L202.05 261.24 L200.56 257.34 L199.1 253.32 L197.69 249.19 L196.32 244.94 L194.98 240.56 L193.68 236.06 L192.42 231.43 L191.2 226.67 L148.67 226.67Z" fill="#d1a7d6"/>
<path d="M148.67 396.67 L459.67 396.67 L459.67 378.39 L449.91 377.8 L440.47 377.19 L431.32 376.56 L422.45 375.91 L413.87 375.24 L405.55 374.54 L397.5 373.83 L389.69 373.09 L382.13 372.32 L374.81 371.53 L367.72 370.72 L360.85 369.88 L354.2 369.01 L347.75 368.12 L341.51 367.19 L335.46 366.24 L329.61 365.26 L323.93 364.24 L318.44 363.19 L313.11 362.1 L307.95 360.99 L302.96 359.83 L298.12 358.64 L293.43 357.41 L288.89 356.14 L284.5 354.82 L280.24 353.47 L276.11 352.07 L272.12 350.63 L268.24 349.14 L264.49 347.6 L260.86 346.01 L257.34 344.37 L253.94 342.68 L250.63 340.93 L247.44 339.12 L244.34 337.26 L241.34 335.34 L238.43 333.35 L235.62 331.3 L232.89 329.19 L230.25 327 L227.69 324.75 L225.21 322.42 L222.81 320.01 L220.49 317.53 L218.24 314.97 L216.05 312.33 L213.94 309.6 L211.89 306.78 L209.91 303.87 L207.99 300.86 L206.13 297.76 L204.33 294.56 L202.58 291.25 L200.89 287.84 L199.25 284.32 L197.67 280.68 L196.13 276.93 L194.64 273.05 L193.2 269.05 L191.81 264.92 L190.45 260.65 L189.14 256.25 L187.87 251.7 L186.64 247.01 L185.45 242.16 L184.3 237.16 L183.18 232 L182.1 226.67 L148.67 226.67Z" fill="#f8dcf8"/>
<path d="M148.67 396.67 L459.67 396.67 L459.67 380.18 L449.47 379.62 L439.61 379.04 L430.07 378.44 L420.85 377.82 L411.93 377.19 L403.3 376.53 L394.95 375.84 L386.88 375.14 L379.07 374.41 L371.52 373.65 L364.21 372.87 L357.15 372.07 L350.31 371.23 L343.7 370.37 L337.31 369.48 L331.13 368.56 L325.14 367.61 L319.36 366.62 L313.76 365.6 L308.35 364.55 L303.12 363.46 L298.06 362.34 L293.16 361.17 L288.42 359.97 L283.84 358.73 L279.41 357.44 L275.12 356.11 L270.98 354.74 L266.97 353.32 L263.09 351.85 L259.34 350.33 L255.71 348.76 L252.2 347.13 L248.81 345.46 L245.53 343.72 L242.35 341.93 L239.28 340.07 L236.31 338.15 L233.44 336.17 L230.66 334.12 L227.97 332 L225.37 329.81 L222.86 327.54 L220.43 325.2 L218.07 322.78 L215.8 320.27 L213.6 317.68 L211.47 315.01 L209.41 312.24 L207.42 309.38 L205.49 306.42 L203.63 303.36 L201.83 300.2 L200.09 296.93 L198.4 293.55 L196.77 290.06 L195.19 286.44 L193.67 282.71 L192.19 278.84 L190.77 274.85 L189.39 270.72 L188.05 266.45 L186.76 262.04 L185.51 257.48 L184.3 252.76 L183.14 247.88 L182.01 242.84 L180.91 237.63 L179.86 232.24 L178.83 226.67 L148.67 226.67Z" fill="#9ecae1"/>
<path d="M148.67 396.67 L459.67 396.67 L459.67 383.32 L448.56 382.83 L437.86 382.32 L427.53 381.78 L417.58 381.23 L407.98 380.66 L398.72 380.07 L389.79 379.45 L381.19 378.82 L372.89 378.16 L364.88 377.47 L357.16 376.76 L349.72 376.02 L342.54 375.26 L335.62 374.47 L328.95 373.65 L322.51 372.79 L316.3 371.91 L310.32 370.99 L304.55 370.04 L298.98 369.06 L293.62 368.03 L288.44 366.97 L283.45 365.88 L278.64 364.74 L274 363.55 L269.53 362.33 L265.21 361.06 L261.05 359.74 L257.04 358.37 L253.17 356.95 L249.44 355.48 L245.84 353.96 L242.37 352.38 L239.03 350.74 L235.8 349.04 L232.69 347.27 L229.69 345.44 L226.8 343.55 L224.01 341.58 L221.32 339.54 L218.73 337.43 L216.23 335.23 L213.81 332.96 L211.49 330.6 L209.25 328.16 L207.08 325.62 L205 322.99 L202.99 320.26 L201.05 317.43 L199.18 314.5 L197.37 311.46 L195.64 308.3 L193.96 305.03 L192.34 301.64 L190.78 298.12 L189.28 294.47 L187.83 290.69 L186.43 286.77 L185.08 282.7 L183.78 278.48 L182.53 274.1 L181.32 269.57 L180.15 264.86 L179.03 259.98 L177.95 254.92 L176.9 249.67 L175.89 244.23 L174.92 238.59 L173.98 232.74 L173.08 226.67 L148.67 226.67Z" fill="#6baed6"/>
<path d="M148.67 396.67 L459.67 396.67 L459.67 385.74 L447.71 385.31 L436.21 384.85 L425.15 384.38 L414.52 383.89 L404.29 383.38 L394.46 382.85 L385.01 382.29 L375.92 381.72 L367.18 381.12 L358.78 380.5 L350.7 379.85 L342.93 379.18 L335.46 378.48 L328.28 377.75 L321.37 377 L314.73 376.21 L308.34 375.39 L302.2 374.54 L296.3 373.66 L290.62 372.74 L285.16 371.78 L279.91 370.79 L274.87 369.75 L270.01 368.67 L265.35 367.55 L260.86 366.39 L256.55 365.18 L252.4 363.92 L248.41 362.61 L244.57 361.25 L240.89 359.83 L237.34 358.36 L233.93 356.83 L230.65 355.23 L227.5 353.58 L224.47 351.85 L221.55 350.06 L218.75 348.2 L216.05 346.26 L213.46 344.24 L210.97 342.15 L208.57 339.96 L206.27 337.7 L204.06 335.34 L201.93 332.89 L199.88 330.34 L197.91 327.68 L196.01 324.92 L194.19 322.05 L192.44 319.07 L190.76 315.97 L189.14 312.74 L187.58 309.38 L186.09 305.89 L184.65 302.26 L183.27 298.49 L181.93 294.56 L180.66 290.48 L179.43 286.23 L178.24 281.81 L177.11 277.22 L176.01 272.44 L174.96 267.47 L173.95 262.31 L172.98 256.93 L172.04 251.35 L171.14 245.53 L170.28 239.49 L169.45 233.2 L168.65 226.67 L148.67 226.67Z" fill="#4292c6"/>
<path d="M148.67 396.67 L459.67 396.67 L459.67 388.38 L446.53 388.01 L433.95 387.63 L421.9 387.23 L410.36 386.82 L399.3 386.38 L388.72 385.93 L378.58 385.46 L368.87 384.96 L359.56 384.45 L350.66 383.91 L342.12 383.34 L333.95 382.76 L326.13 382.14 L318.63 381.5 L311.45 380.83 L304.57 380.14 L297.99 379.41 L291.68 378.64 L285.64 377.85 L279.86 377.02 L274.31 376.15 L269.01 375.25 L263.92 374.3 L259.05 373.32 L254.39 372.29 L249.93 371.21 L245.65 370.09 L241.55 368.92 L237.63 367.69 L233.87 366.42 L230.27 365.08 L226.83 363.69 L223.52 362.24 L220.36 360.72 L217.33 359.13 L214.43 357.48 L211.66 355.75 L208.99 353.94 L206.45 352.06 L204.01 350.09 L201.67 348.04 L199.43 345.89 L197.29 343.65 L195.23 341.32 L193.26 338.87 L191.38 336.33 L189.58 333.66 L187.85 330.89 L186.19 327.98 L184.61 324.96 L183.09 321.79 L181.64 318.49 L180.24 315.04 L178.91 311.44 L177.63 307.68 L176.41 303.76 L175.24 299.66 L174.11 295.39 L173.04 290.92 L172.01 286.25 L171.02 281.39 L170.08 276.3 L169.18 270.99 L168.31 265.45 L167.48 259.66 L166.68 253.62 L165.92 247.31 L165.19 240.72 L164.5 233.85 L163.83 226.67 L148.67 226.67Z" fill="#2171b5"/>
<path d="M148.67 396.67 L459.67 396.67 L459.67 390.59 L445.21 390.29 L431.43 389.98 L418.29 389.66 L405.76 389.31 L393.81 388.96 L382.42 388.58 L371.56 388.19 L361.2 387.77 L351.32 387.34 L341.9 386.89 L332.92 386.41 L324.36 385.91 L316.19 385.38 L308.41 384.83 L300.98 384.26 L293.9 383.65 L287.15 383.02 L280.72 382.35 L274.58 381.66 L268.73 380.92 L263.15 380.16 L257.83 379.35 L252.76 378.51 L247.92 377.62 L243.31 376.7 L238.91 375.72 L234.71 374.7 L230.72 373.63 L226.9 372.51 L223.27 371.33 L219.8 370.1 L216.49 368.8 L213.34 367.44 L210.34 366.02 L207.47 364.52 L204.74 362.96 L202.13 361.31 L199.65 359.59 L197.28 357.78 L195.02 355.89 L192.86 353.9 L190.81 351.82 L188.85 349.63 L186.98 347.34 L185.2 344.93 L183.5 342.41 L181.89 339.77 L180.34 337 L178.87 334.09 L177.47 331.04 L176.13 327.84 L174.85 324.48 L173.63 320.97 L172.47 317.28 L171.37 313.41 L170.31 309.35 L169.31 305.09 L168.35 300.63 L167.43 295.95 L166.56 291.04 L165.73 285.89 L164.94 280.49 L164.18 274.83 L163.46 268.89 L162.77 262.66 L162.12 256.13 L161.49 249.28 L160.9 242.1 L160.33 234.57 L159.78 226.67 L148.67 226.67Z" fill="#08519c"/>
<path d="M148.67 396.67 L459.67 396.67 L459.67 391.65 L444.4 391.39 L429.88 391.12 L416.08 390.83 L402.95 390.53 L390.47 390.22 L378.6 389.88 L367.31 389.53 L356.58 389.17 L346.37 388.78 L336.67 388.37 L327.44 387.94 L318.66 387.49 L310.32 387.02 L302.38 386.52 L294.84 386 L287.66 385.45 L280.84 384.87 L274.35 384.26 L268.18 383.62 L262.32 382.94 L256.74 382.23 L251.43 381.49 L246.39 380.71 L241.59 379.88 L237.03 379.02 L232.69 378.1 L228.57 377.15 L224.64 376.14 L220.92 375.08 L217.37 373.96 L214 372.79 L210.79 371.56 L207.74 370.26 L204.84 368.9 L202.08 367.47 L199.46 365.96 L196.97 364.38 L194.6 362.71 L192.34 360.96 L190.2 359.11 L188.16 357.17 L186.22 355.14 L184.38 352.99 L182.62 350.74 L180.96 348.37 L179.37 345.87 L177.86 343.25 L176.43 340.49 L175.07 337.59 L173.77 334.54 L172.54 331.34 L171.37 327.96 L170.25 324.42 L169.19 320.69 L168.19 316.77 L167.23 312.64 L166.32 308.3 L165.45 303.74 L164.63 298.94 L163.84 293.9 L163.1 288.6 L162.39 283.02 L161.72 277.15 L161.08 270.98 L160.47 264.49 L159.89 257.67 L159.34 250.49 L158.81 242.95 L158.31 235.01 L157.84 226.67 L148.67 226.67Z" fill="#08306b"/>
<path d="M459.67 391.65 L444.4 391.39 L429.88 391.12 L416.08 390.83 L402.95 390.53 L390.47 390.22 L378.6 389.88 L367.31 389.53 L356.58 389.17 L346.37 388.78 L336.67 388.37 L327.44 387.94 L318.66 387.49 L310.32 387.02 L302.38 386.52 L294.84 386 L287.66 385.45 L280.84 384.87 L274.35 384.26 L268.18 383.62 L262.32 382.94 L256.74 382.23 L251.43 381.49 L246.39 380.71 L241.59 379.88 L237.03 379.02 L232.69 378.1 L228.57 377.15 L224.64 376.14 L220.92 375.08 L217.37 373.96 L214 372.79 L210.79 371.56 L207.74 370.26 L204.84 368.9 L202.08 367.47 L199.46 365.96 L196.97 364.38 L194.6 362.71 L192.34 360.96 L190.2 359.11 L188.16 357.17 L186.22 355.14 L184.38 352.99 L182.62 350.74 L180.96 348.37 L179.37 345.87 L177.86 343.25 L176.43 340.49 L175.07 337.59 L173.77 334.54 L172.54 331.34 L171.37 327.96 L170.25 324.42 L169.19 320.69 L168.19 316.77 L167.23 312.64 L166.32 308.3 L165.45 303.74 L164.63 298.94 L163.84 293.9 L163.1 288.6 L162.39 283.02 L161.72 277.15 L161.08 270.98 L160.47 264.49 L159.89 257.67 L159.34 250.49 L158.81 242.95 L158.31 235.01 L157.84 226.67 M459.67 390.59 L445.21 390.29 L431.43 389.98 L418.29 389.66 L405.76 389.31 L393.81 388.96 L382.42 388.58 L371.56 388.19 L361.2 387.77 L351.32 387.34 L341.9 386.89 L332.92 386.41 L324.36 385.91 L316.19 385.38 L308.41 384.83 L300.98 384.26 L293.9 383.65 L287.15 383.02 L280.72 382.35 L274.58 381.66 L268.73 380.92 L263.15 380.16 L257.83 379.35 L252.76 378.51 L247.92 377.62 L243.31 376.7 L238.91 375.72 L234.71 374.7 L230.72 373.63 L226.9 372.51 L223.27 371.33 L219.8 370.1 L216.49 368.8 L213.34 367.44 L210.34 366.02 L207.47 364.52 L204.74 362.96 L202.13 361.31 L199.65 359.59 L197.28 357.78 L195.02 355.89 L192.86 353.9 L190.81 351.82 L188.85 349.63 L186.98 347.34 L185.2 344.93 L183.5 342.41 L181.89 339.77 L180.34 337 L178.87 334.09 L177.47 331.04 L176.13 327.84 L174.85 324.48 L173.63 320.97 L172.47 317.28 L171.37 313.41 L170.31 309.35 L169.31 305.09 L168.35 300.63 L167.43 295.95 L166.56 291.04 L165.73 285.89 L164.94 280.49 L164.18 274.83 L163.46 268.89 L162.77 262.66 L162.12 256.13 L161.49 249.28 L160.9 242.1 L160.33 234.57 L159.78 226.67 M459.67 388.38 L446.53 388.01 L433.95 387.63 L421.9 387.23 L410.36 386.82 L399.3 386.38 L388.72 385.93 L378.58 385.46 L368.87 384.96 L359.56 384.45 L350.66 383.91 L342.12 383.34 L333.95 382.76 L326.13 382.14 L318.63 381.5 L311.45 380.83 L304.57 380.14 L297.99 379.41 L291.68 378.64 L285.64 377.85 L279.86 377.02 L274.31 376.15 L269.01 375.25 L263.92 374.3 L259.05 373.32 L254.39 372.29 L249.93 371.21 L245.65 370.09 L241.55 368.92 L237.63 367.69 L233.87 366.42 L230.27 365.08 L226.83 363.69 L223.52 362.24 L220.36 360.72 L217.33 359.13 L214.43 357.48 L211.66 355.75 L208.99 353.94 L206.45 352.06 L204.01 350.09 L201.67 348.04 L199.43 345.89 L197.29 343.65 L195.23 341.32 L193.26 338.87 L191.38 336.33 L189.58 333.66 L187.85 330.89 L186.19 327.98 L184.61 324.96 L183.09 321.79 L181.64 318.49 L180.24 315.04 L178.91 311.44 L177.63 307.68 L176.41 303.76 L175.24 299.66 L174.11 295.39 L173.04 290.92 L172.01 286.25 L171.02 281.39 L170.08 276.3 L169.18 270.99 L168.31 265.45 L167.48 259.66 L166.68 253.62 L165.92 247.31 L165.19 240.72 L164.5 233.85 L163.83 226.67 M459.67 385.74 L447.71 385.31 L436.21 384.85 L425.15 384.38 L414.52 383.89 L404.29 383.38 L394.46 382.85 L385.01 382.29 L375.92 381.72 L367.18 381.12 L358.78 380.5 L350.7 379.85 L342.93 379.18 L335.46 378.48 L328.28 377.75 L321.37 377 L314.73 376.21 L308.34 375.39 L302.2 374.54 L296.3 373.66 L290.62 372.74 L285.16 371.78 L279.91 370.79 L274.87 369.75 L270.01 368.67 L265.35 367.55 L260.86 366.39 L256.55 365.18 L252.4 363.92 L248.41 362.61 L244.57 361.25 L240.89 359.83 L237.34 358.36 L233.93 356.83 L230.65 355.23 L227.5 353.58 L224.47 351.85 L221.55 350.06 L218.75 348.2 L216.05 346.26 L213.46 344.24 L210.97 342.15 L208.57 339.96 L206.27 337.7 L204.06 335.34 L201.93 332.89 L199.88 330.34 L197.91 327.68 L196.01 324.92 L194.19 322.05 L192.44 319.07 L190.76 315.97 L189.14 312.74 L187.58 309.38 L186.09 305.89 L184.65 302.26 L183.27 298.49 L181.93 294.56 L180.66 290.48 L179.43 286.23 L178.24 281.81 L177.11 277.22 L176.01 272.44 L174.96 267.47 L173.95 262.31 L172.98 256.93 L172.04 251.35 L171.14 245.53 L170.28 239.49 L169.45 233.2 L168.65 226.67 M459.67 383.32 L448.56 382.83 L437.86 382.32 L427.53 381.78 L417.58 381.23 L407.98 380.66 L398.72 380.07 L389.79 379.45 L381.19 378.82 L372.89 378.16 L364.88 377.47 L357.16 376.76 L349.72 376.02 L342.54 375.26 L335.62 374.47 L328.95 373.65 L322.51 372.79 L316.3 371.91 L310.32 370.99 L304.55 370.04 L298.98 369.06 L293.62 368.03 L288.44 366.97 L283.45 365.88 L278.64 364.74 L274 363.55 L269.53 362.33 L265.21 361.06 L261.05 359.74 L257.04 358.37 L253.17 356.95 L249.44 355.48 L245.84 353.96 L242.37 352.38 L239.03 350.74 L235.8 349.04 L232.69 347.27 L229.69 345.44 L226.8 343.55 L224.01 341.58 L221.32 339.54 L218.73 337.43 L216.23 335.23 L213.81 332.96 L211.49 330.6 L209.25 328.16 L207.08 325.62 L205 322.99 L202.99 320.26 L201.05 317.43 L199.18 314.5 L197.37 311.46 L195.64 308.3 L193.96 305.03 L192.34 301.64 L190.78 298.12 L189.28 294.47 L187.83 290.69 L186.43 286.77 L185.08 282.7 L183.78 278.48 L182.53 274.1 L181.32 269.57 L180.15 264.86 L179.03 259.98 L177.95 254.92 L176.9 249.67 L175.89 244.23 L174.92 238.59 L173.98 232.74 L173.08 226.67 M459.67 380.18 L449.47 379.62 L439.61 379.04 L430.07 378.44 L420.85 377.82 L411.93 377.19 L403.3 376.53 L394.95 375.84 L386.88 375.14 L379.07 374.41 L371.52 373.65 L364.21 372.87 L357.15 372.07 L350.31 371.23 L343.7 370.37 L337.31 369.48 L331.13 368.56 L325.14 367.61 L319.36 366.62 L313.76 365.6 L308.35 364.55 L303.12 363.46 L298.06 362.34 L293.16 361.17 L288.42 359.97 L283.84 358.73 L279.41 357.44 L275.12 356.11 L270.98 354.74 L266.97 353.32 L263.09 351.85 L259.34 350.33 L255.71 348.76 L252.2 347.13 L248.81 345.46 L245.53 343.72 L242.35 341.93 L239.28 340.07 L236.31 338.15 L233.44 336.17 L230.66 334.12 L227.97 332 L225.37 329.81 L222.86 327.54 L220.43 325.2 L218.07 322.78 L215.8 320.27 L213.6 317.68 L211.47 315.01 L209.41 312.24 L207.42 309.38 L205.49 306.42 L203.63 303.36 L201.83 300.2 L200.09 296.93 L198.4 293.55 L196.77 290.06 L195.19 286.44 L193.67 282.71 L192.19 278.84 L190.77 274.85 L189.39 270.72 L188.05 266.45 L186.76 262.04 L185.51 257.48 L184.3 252.76 L183.14 247.88 L182.01 242.84 L180.91 237.63 L179.86 232.24 L178.83 226.67 M459.67 378.39 L449.91 377.8 L440.47 377.19 L431.32 376.56 L422.45 375.91 L413.87 375.24 L405.55 374.54 L397.5 373.83 L389.69 373.09 L382.13 372.32 L374.81 371.53 L367.72 370.72 L360.85 369.88 L354.2 369.01 L347.75 368.12 L341.51 367.19 L335.46 366.24 L329.61 365.26 L323.93 364.24 L318.44 363.19 L313.11 362.1 L307.95 360.99 L302.96 359.83 L298.12 358.64 L293.43 357.41 L288.89 356.14 L284.5 354.82 L280.24 353.47 L276.11 352.07 L272.12 350.63 L268.24 349.14 L264.49 347.6 L260.86 346.01 L257.34 344.37 L253.94 342.68 L250.63 340.93 L247.44 339.12 L244.34 337.26 L241.34 335.34 L238.43 333.35 L235.62 331.3 L232.89 329.19 L230.25 327 L227.69 324.75 L225.21 322.42 L222.81 320.01 L220.49 317.53 L218.24 314.97 L216.05 312.33 L213.94 309.6 L211.89 306.78 L209.91 303.87 L207.99 300.86 L206.13 297.76 L204.33 294.56 L202.58 291.25 L200.89 287.84 L199.25 284.32 L197.67 280.68 L196.13 276.93 L194.64 273.05 L193.2 269.05 L191.81 264.92 L190.45 260.65 L189.14 256.25 L187.87 251.7 L186.64 247.01 L185.45 242.16 L184.3 237.16 L183.18 232 L182.1 226.67 M459.67 373.42 L450.95 372.75 L442.48 372.06 L434.25 371.35 L426.24 370.62 L418.47 369.87 L410.91 369.1 L403.56 368.3 L396.41 367.48 L389.47 366.64 L382.72 365.78 L376.16 364.89 L369.79 363.97 L363.59 363.03 L357.57 362.06 L351.72 361.06 L346.03 360.03 L340.5 358.98 L335.12 357.89 L329.9 356.77 L324.82 355.62 L319.88 354.44 L315.08 353.22 L310.42 351.97 L305.89 350.68 L301.48 349.35 L297.2 347.99 L293.04 346.59 L288.99 345.14 L285.06 343.66 L281.24 342.13 L277.52 340.56 L273.91 338.94 L270.4 337.28 L266.99 335.56 L263.67 333.8 L260.45 331.99 L257.32 330.12 L254.27 328.21 L251.31 326.23 L248.44 324.2 L245.64 322.11 L242.92 319.96 L240.28 317.75 L237.72 315.48 L235.22 313.13 L232.79 310.73 L230.44 308.25 L228.15 305.7 L225.92 303.08 L223.75 300.38 L221.65 297.6 L219.6 294.75 L217.62 291.81 L215.68 288.79 L213.81 285.67 L211.98 282.48 L210.21 279.18 L208.48 275.8 L206.81 272.31 L205.18 268.73 L203.59 265.04 L202.05 261.24 L200.56 257.34 L199.1 253.32 L197.69 249.19 L196.32 244.94 L194.98 240.56 L193.68 236.06 L192.42 231.43 L191.2 226.67 M459.67 369.04 L451.7 368.32 L443.93 367.57 L436.37 366.8 L428.99 366.02 L421.81 365.21 L414.81 364.39 L407.99 363.54 L401.35 362.67 L394.87 361.77 L388.56 360.85 L382.42 359.91 L376.43 358.95 L370.59 357.95 L364.9 356.94 L359.36 355.89 L353.96 354.82 L348.7 353.72 L343.58 352.59 L338.58 351.43 L333.72 350.24 L328.98 349.02 L324.35 347.77 L319.85 346.48 L315.47 345.16 L311.19 343.81 L307.03 342.41 L302.97 340.99 L299.02 339.52 L295.16 338.02 L291.41 336.48 L287.75 334.9 L284.19 333.27 L280.72 331.6 L277.33 329.89 L274.03 328.14 L270.82 326.34 L267.69 324.49 L264.64 322.59 L261.67 320.64 L258.77 318.64 L255.95 316.59 L253.2 314.48 L250.53 312.32 L247.92 310.1 L245.37 307.83 L242.89 305.49 L240.48 303.09 L238.13 300.63 L235.83 298.11 L233.6 295.51 L231.42 292.85 L229.3 290.12 L227.24 287.32 L225.22 284.45 L223.26 281.49 L221.35 278.47 L219.49 275.36 L217.67 272.17 L215.91 268.89 L214.18 265.53 L212.5 262.08 L210.87 258.55 L209.27 254.91 L207.72 251.19 L206.21 247.36 L204.73 243.43 L203.3 239.4 L201.9 235.27 L200.53 231.02 L199.2 226.67 M459.67 364.11 L452.41 363.33 L445.32 362.54 L438.4 361.72 L431.64 360.89 L425.03 360.03 L418.58 359.16 L412.29 358.26 L406.13 357.34 L400.13 356.4 L394.26 355.44 L388.53 354.46 L382.93 353.45 L377.46 352.42 L372.12 351.36 L366.91 350.28 L361.82 349.17 L356.84 348.03 L351.98 346.87 L347.24 345.68 L342.61 344.46 L338.08 343.21 L333.66 341.94 L329.34 340.63 L325.13 339.29 L321.01 337.92 L316.99 336.52 L313.06 335.08 L309.22 333.61 L305.48 332.1 L301.82 330.56 L298.24 328.98 L294.75 327.36 L291.34 325.7 L288.01 324.01 L284.76 322.27 L281.59 320.5 L278.48 318.68 L275.46 316.81 L272.5 314.9 L269.61 312.95 L266.78 310.95 L264.03 308.9 L261.34 306.81 L258.71 304.66 L256.14 302.46 L253.63 300.21 L251.18 297.9 L248.79 295.54 L246.45 293.13 L244.17 290.65 L241.94 288.12 L239.77 285.53 L237.64 282.87 L235.56 280.15 L233.54 277.37 L231.56 274.52 L229.62 271.6 L227.73 268.61 L225.89 265.55 L224.08 262.42 L222.32 259.21 L220.61 255.93 L218.93 252.57 L217.29 249.12 L215.69 245.6 L214.12 241.99 L212.59 238.29 L211.1 234.51 L209.65 230.63 L208.22 226.67 M459.67 358.76 L453.07 357.94 L446.61 357.1 L440.3 356.24 L434.11 355.36 L428.06 354.47 L422.13 353.55 L416.33 352.62 L410.65 351.66 L405.1 350.69 L399.66 349.69 L394.34 348.68 L389.13 347.64 L384.03 346.57 L379.03 345.49 L374.15 344.38 L369.37 343.25 L364.69 342.09 L360.1 340.91 L355.62 339.7 L351.23 338.46 L346.93 337.2 L342.73 335.91 L338.61 334.6 L334.58 333.25 L330.64 331.88 L326.78 330.47 L323 329.04 L319.31 327.57 L315.69 326.08 L312.15 324.55 L308.68 322.98 L305.29 321.39 L301.96 319.76 L298.71 318.09 L295.53 316.39 L292.42 314.65 L289.37 312.87 L286.38 311.06 L283.46 309.2 L280.6 307.31 L277.8 305.37 L275.07 303.39 L272.38 301.37 L269.76 299.3 L267.19 297.19 L264.68 295.04 L262.22 292.84 L259.81 290.59 L257.45 288.29 L255.15 285.94 L252.89 283.54 L250.68 281.09 L248.51 278.59 L246.4 276.03 L244.32 273.41 L242.29 270.74 L240.31 268.01 L238.37 265.23 L236.46 262.38 L234.6 259.47 L232.78 256.5 L230.99 253.46 L229.25 250.35 L227.54 247.18 L225.87 243.95 L224.23 240.64 L222.63 237.26 L221.06 233.8 L219.52 230.27 L218.02 226.67" fill="none" stroke="#000" stroke-width="0.8" stroke-linejoin="round"/>
</g>
<g clip-path="url(#c0)">
<path d="M356 502.52 L342.43 502.18 L329.45 501.82 L317.03 501.45 L305.16 501.06 L293.81 500.65 L282.95 500.22 L272.57 499.78 L262.63 499.31 L253.14 498.82 L244.05 498.31 L235.37 497.78 L227.06 497.22 L219.11 496.64 L211.51 496.03 L204.25 495.39 L197.3 494.73 L190.65 494.03 L184.29 493.3 L178.22 492.54 L172.4 491.74 L166.84 490.91 L161.52 490.04 L156.44 489.13 L151.58 488.17 L146.92 487.18 L142.48 486.13 L138.22 485.05 L134.15 483.91 L130.26 482.72 L126.54 481.47 L122.98 480.17 L119.58 478.81 L116.33 477.39 L113.21 475.9 L110.24 474.34 L107.39 472.71 L104.67 471.01 L102.06 469.23 L99.57 467.37 L97.19 465.43 L94.91 463.39 L92.73 461.27 L90.65 459.04 L88.66 456.72 L86.75 454.29 L84.93 451.74 L83.19 449.08 L81.52 446.3 L79.93 443.4 L78.4 440.36 L76.95 437.18 L75.55 433.86 L74.22 430.38 L72.94 426.75 L71.72 422.95 L70.56 418.98 L69.44 414.83 L68.38 410.48 L67.36 405.94 L66.38 401.19 L65.45 396.23 L64.55 391.04 L63.7 385.61 L62.88 379.93 L62.1 374 L61.36 367.79 L60.64 361.3 L59.96 354.51 L59.31 347.42 L58.68 340 L356 340Z" fill="rgba(130,67,142,0.20)"/>
<path d="M45 510 L356 510 L356 502.52 L342.43 502.18 L329.45 501.82 L317.03 501.45 L305.16 501.06 L293.81 500.65 L282.95 500.22 L272.57 499.78 L262.63 499.31 L253.14 498.82 L244.05 498.31 L235.37 497.78 L227.06 497.22 L219.11 496.64 L211.51 496.03 L204.25 495.39 L197.3 494.73 L190.65 494.03 L184.29 493.3 L178.22 492.54 L172.4 491.74 L166.84 490.91 L161.52 490.04 L156.44 489.13 L151.58 488.17 L146.92 487.18 L142.48 486.13 L138.22 485.05 L134.15 483.91 L130.26 482.72 L126.54 481.47 L122.98 480.17 L119.58 478.81 L116.33 477.39 L113.21 475.9 L110.24 474.34 L107.39 472.71 L104.67 471.01 L102.06 469.23 L99.57 467.37 L97.19 465.43 L94.91 463.39 L92.73 461.27 L90.65 459.04 L88.66 456.72 L86.75 454.29 L84.93 451.74 L83.19 449.08 L81.52 446.3 L79.93 443.4 L78.4 440.36 L76.95 437.18 L75.55 433.86 L74.22 430.38 L72.94 426.75 L71.72 422.95 L70.56 418.98 L69.44 414.83 L68.38 410.48 L67.36 405.94 L66.38 401.19 L65.45 396.23 L64.55 391.04 L63.7 385.61 L62.88 379.93 L62.1 374 L61.36 367.79 L60.64 361.3 L59.96 354.51 L59.31 347.42 L58.68 340 L45 340Z" fill="#82438e"/>
<path d="M45 510 L356 510 L356 503.59 L341.77 503.28 L328.2 502.96 L315.25 502.62 L302.88 502.27 L291.09 501.9 L279.83 501.51 L269.09 501.1 L258.84 500.67 L249.06 500.23 L239.72 499.76 L230.82 499.27 L222.32 498.75 L214.21 498.21 L206.47 497.65 L199.08 497.06 L192.03 496.44 L185.31 495.78 L178.89 495.1 L172.77 494.39 L166.92 493.64 L161.34 492.86 L156.02 492.04 L150.94 491.17 L146.1 490.27 L141.47 489.33 L137.06 488.34 L132.85 487.3 L128.83 486.21 L125 485.07 L121.34 483.87 L117.85 482.62 L114.51 481.31 L111.33 479.93 L108.3 478.49 L105.4 476.98 L102.64 475.4 L100.01 473.74 L97.49 472 L95.09 470.18 L92.8 468.27 L90.61 466.27 L88.52 464.18 L86.53 461.98 L84.63 459.68 L82.82 457.26 L81.09 454.74 L79.44 452.09 L77.86 449.31 L76.36 446.4 L74.93 443.35 L73.56 440.16 L72.25 436.81 L71.01 433.3 L69.82 429.63 L68.68 425.78 L67.6 421.74 L66.56 417.51 L65.58 413.07 L64.64 408.43 L63.74 403.56 L62.88 398.46 L62.06 393.11 L61.28 387.51 L60.54 381.64 L59.83 375.48 L59.15 369.03 L58.5 362.28 L57.88 355.2 L57.29 347.78 L56.73 340 L45 340Z" fill="#965ea2"/>
<path d="M45 510 L356 510 L356 504.55 L341.09 504.27 L326.89 503.98 L313.37 503.68 L300.5 503.36 L288.25 503.03 L276.59 502.68 L265.48 502.31 L254.91 501.92 L244.85 501.51 L235.26 501.09 L226.14 500.64 L217.46 500.17 L209.19 499.67 L201.31 499.15 L193.82 498.6 L186.68 498.03 L179.89 497.43 L173.42 496.79 L167.26 496.13 L161.4 495.43 L155.82 494.7 L150.51 493.93 L145.45 493.12 L140.63 492.27 L136.04 491.37 L131.68 490.44 L127.52 489.45 L123.57 488.41 L119.8 487.33 L116.21 486.19 L112.8 484.99 L109.55 483.73 L106.45 482.4 L103.5 481.01 L100.7 479.55 L98.03 478.02 L95.49 476.41 L93.07 474.72 L90.76 472.94 L88.57 471.07 L86.48 469.11 L84.49 467.05 L82.59 464.89 L80.79 462.62 L79.08 460.23 L77.44 457.73 L75.89 455.09 L74.41 452.33 L73 449.42 L71.65 446.37 L70.37 443.17 L69.16 439.8 L68 436.27 L66.9 432.55 L65.85 428.65 L64.85 424.56 L63.9 420.25 L62.99 415.73 L62.13 410.98 L61.31 406 L60.52 400.76 L59.78 395.26 L59.07 389.48 L58.4 383.41 L57.75 377.03 L57.14 370.33 L56.56 363.3 L56.01 355.91 L55.48 348.15 L54.98 340 L45 340Z" fill="#ae76b3"/>
<path d="M45 510 L356 510 L356 505.41 L340.36 505.16 L325.51 504.91 L311.41 504.64 L298.01 504.35 L285.29 504.05 L273.21 503.74 L261.74 503.41 L250.84 503.06 L240.49 502.69 L230.66 502.31 L221.33 501.9 L212.46 501.47 L204.04 501.02 L196.04 500.54 L188.45 500.04 L181.24 499.51 L174.39 498.96 L167.88 498.37 L161.7 497.76 L155.84 497.11 L150.26 496.43 L144.97 495.71 L139.94 494.95 L135.17 494.16 L130.64 493.32 L126.33 492.43 L122.24 491.5 L118.36 490.53 L114.67 489.49 L111.17 488.41 L107.84 487.27 L104.68 486.06 L101.68 484.79 L98.83 483.46 L96.12 482.06 L93.55 480.58 L91.11 479.02 L88.79 477.38 L86.59 475.65 L84.5 473.83 L82.51 471.92 L80.63 469.9 L78.84 467.78 L77.13 465.54 L75.52 463.19 L73.98 460.71 L72.53 458.1 L71.14 455.35 L69.83 452.46 L68.58 449.41 L67.39 446.21 L66.27 442.83 L65.2 439.27 L64.18 435.53 L63.22 431.59 L62.3 427.44 L61.43 423.06 L60.61 418.46 L59.82 413.62 L59.08 408.51 L58.37 403.14 L57.7 397.48 L57.06 391.53 L56.45 385.25 L55.88 378.65 L55.33 371.7 L54.81 364.37 L54.32 356.67 L53.85 348.55 L53.4 340 L45 340Z" fill="#d1a7d6"/>
<path d="M45 510 L356 510 L356 506.17 L339.6 505.96 L324.06 505.73 L309.34 505.49 L295.4 505.24 L282.19 504.98 L269.68 504.7 L257.83 504.4 L246.6 504.09 L235.97 503.76 L225.9 503.42 L216.36 503.05 L207.32 502.66 L198.76 502.25 L190.65 501.82 L182.97 501.37 L175.69 500.89 L168.8 500.38 L162.27 499.84 L156.08 499.28 L150.22 498.68 L144.67 498.05 L139.42 497.38 L134.44 496.68 L129.72 495.94 L125.25 495.16 L121.02 494.33 L117.01 493.46 L113.21 492.54 L109.61 491.57 L106.2 490.54 L102.98 489.46 L99.92 488.31 L97.02 487.1 L94.28 485.83 L91.68 484.48 L89.22 483.06 L86.88 481.56 L84.68 479.98 L82.58 478.31 L80.6 476.54 L78.72 474.68 L76.94 472.71 L75.26 470.64 L73.66 468.45 L72.15 466.13 L70.72 463.69 L69.36 461.11 L68.08 458.39 L66.86 455.52 L65.71 452.48 L64.62 449.28 L63.58 445.9 L62.6 442.33 L61.67 438.56 L60.79 434.58 L59.96 430.39 L59.17 425.95 L58.42 421.27 L57.72 416.33 L57.05 411.12 L56.41 405.61 L55.81 399.8 L55.24 393.66 L54.7 387.18 L54.19 380.35 L53.7 373.13 L53.24 365.51 L52.81 357.46 L52.4 348.97 L52.01 340 L45 340Z" fill="#f8dcf8"/>
<path d="M45 510 L356 510 L356 506.84 L338.78 506.66 L322.52 506.46 L307.16 506.26 L292.64 506.04 L278.93 505.8 L265.98 505.56 L253.75 505.3 L242.19 505.02 L231.28 504.73 L220.96 504.42 L211.22 504.1 L202.02 503.75 L193.33 503.38 L185.12 503 L177.36 502.59 L170.03 502.15 L163.11 501.69 L156.57 501.2 L150.39 500.69 L144.56 500.14 L139.05 499.56 L133.84 498.95 L128.92 498.31 L124.28 497.62 L119.89 496.9 L115.74 496.13 L111.83 495.31 L108.13 494.45 L104.63 493.54 L101.33 492.58 L98.21 491.56 L95.27 490.48 L92.48 489.33 L89.86 488.12 L87.37 486.84 L85.03 485.48 L82.81 484.04 L80.72 482.52 L78.74 480.91 L76.87 479.21 L75.11 477.4 L73.44 475.49 L71.87 473.47 L70.38 471.33 L68.97 469.06 L67.65 466.67 L66.39 464.13 L65.21 461.44 L64.09 458.59 L63.03 455.58 L62.03 452.39 L61.09 449.01 L60.2 445.44 L59.36 441.65 L58.56 437.65 L57.81 433.41 L57.1 428.92 L56.43 424.17 L55.8 419.14 L55.2 413.81 L54.64 408.18 L54.1 402.21 L53.6 395.89 L53.12 389.21 L52.67 382.13 L52.25 374.63 L51.85 366.7 L51.47 358.3 L51.11 349.41 L50.77 340 L45 340Z" fill="#9ecae1"/>
<path d="M45 510 L356 510 L356 507.43 L337.92 507.28 L320.88 507.11 L304.84 506.93 L289.73 506.74 L275.5 506.54 L262.1 506.32 L249.47 506.1 L237.58 505.86 L226.38 505.6 L215.84 505.33 L205.9 505.04 L196.55 504.73 L187.73 504.41 L179.43 504.06 L171.62 503.7 L164.25 503.31 L157.32 502.9 L150.79 502.46 L144.64 501.99 L138.84 501.5 L133.39 500.97 L128.25 500.42 L123.41 499.82 L118.85 499.19 L114.55 498.53 L110.51 497.82 L106.7 497.07 L103.11 496.27 L99.73 495.42 L96.55 494.52 L93.55 493.57 L90.73 492.55 L88.07 491.47 L85.57 490.33 L83.21 489.12 L80.98 487.83 L78.89 486.46 L76.92 485 L75.07 483.46 L73.32 481.82 L71.67 480.08 L70.12 478.24 L68.66 476.27 L67.28 474.19 L65.99 471.98 L64.77 469.63 L63.62 467.14 L62.53 464.5 L61.52 461.69 L60.55 458.7 L59.65 455.54 L58.8 452.17 L58 448.6 L57.24 444.81 L56.53 440.79 L55.86 436.52 L55.23 431.98 L54.63 427.16 L54.07 422.05 L53.54 416.62 L53.05 410.85 L52.58 404.73 L52.14 398.23 L51.72 391.33 L51.33 384 L50.96 376.22 L50.62 367.97 L50.29 359.2 L49.98 349.89 L49.69 340 L45 340Z" fill="#6baed6"/>
<path d="M45 510 L356 510 L356 507.95 L336.99 507.81 L319.14 507.67 L302.38 507.52 L286.64 507.36 L271.87 507.18 L258 507 L244.98 506.81 L232.75 506.6 L221.27 506.38 L210.5 506.14 L200.38 505.89 L190.88 505.62 L181.96 505.34 L173.59 505.03 L165.73 504.71 L158.35 504.36 L151.42 504 L144.91 503.61 L138.8 503.19 L133.07 502.75 L127.68 502.27 L122.63 501.77 L117.88 501.23 L113.43 500.66 L109.24 500.06 L105.32 499.41 L101.63 498.72 L98.17 497.98 L94.92 497.2 L91.86 496.37 L89 495.48 L86.31 494.53 L83.78 493.53 L81.41 492.46 L79.19 491.31 L77.1 490.1 L75.13 488.8 L73.29 487.42 L71.56 485.95 L69.94 484.38 L68.41 482.71 L66.98 480.94 L65.64 479.05 L64.38 477.03 L63.19 474.88 L62.08 472.6 L61.04 470.16 L60.06 467.57 L59.13 464.8 L58.27 461.86 L57.46 458.73 L56.7 455.39 L55.98 451.83 L55.31 448.04 L54.68 444.01 L54.09 439.71 L53.53 435.13 L53.01 430.26 L52.52 425.07 L52.06 419.54 L51.63 413.65 L51.22 407.37 L50.84 400.69 L50.49 393.57 L50.15 385.99 L49.84 377.91 L49.54 369.31 L49.26 360.15 L49 350.39 L48.76 340 L45 340Z" fill="#4292c6"/>
<path d="M45 510 L356 510 L356 508.38 L335.99 508.27 L317.26 508.15 L299.74 508.03 L283.35 507.89 L268.01 507.75 L253.66 507.59 L240.23 507.43 L227.67 507.25 L215.91 507.06 L204.92 506.86 L194.62 506.64 L185 506.41 L175.99 506.16 L167.56 505.9 L159.67 505.62 L152.29 505.32 L145.39 504.99 L138.93 504.65 L132.88 504.28 L127.23 503.89 L121.94 503.47 L116.99 503.02 L112.35 502.54 L108.02 502.03 L103.96 501.48 L100.17 500.89 L96.62 500.27 L93.3 499.6 L90.19 498.88 L87.28 498.12 L84.56 497.3 L82.01 496.42 L79.63 495.49 L77.4 494.49 L75.32 493.43 L73.37 492.29 L71.54 491.07 L69.83 489.77 L68.24 488.38 L66.74 486.89 L65.34 485.3 L64.03 483.6 L62.81 481.78 L61.66 479.84 L60.59 477.77 L59.59 475.55 L58.65 473.18 L57.77 470.65 L56.95 467.94 L56.18 465.05 L55.46 461.96 L54.79 458.66 L54.16 455.13 L53.57 451.35 L53.02 447.32 L52.5 443.01 L52.02 438.4 L51.57 433.47 L51.14 428.21 L50.75 422.59 L50.38 416.57 L50.03 410.15 L49.71 403.28 L49.41 395.94 L49.12 388.1 L48.86 379.71 L48.61 370.75 L48.38 361.18 L48.16 350.94 L47.96 340 L45 340Z" fill="#2171b5"/>
<path d="M45 510 L356 510 L356 508.76 L334.9 508.66 L315.24 508.57 L296.91 508.46 L279.82 508.35 L263.89 508.23 L249.04 508.1 L235.2 507.97 L222.3 507.82 L210.27 507.66 L199.06 507.49 L188.61 507.3 L178.87 507.11 L169.79 506.9 L161.32 506.67 L153.43 506.43 L146.08 506.17 L139.22 505.89 L132.83 505.59 L126.87 505.27 L121.32 504.93 L116.14 504.56 L111.32 504.16 L106.82 503.74 L102.62 503.28 L98.72 502.79 L95.07 502.27 L91.67 501.71 L88.51 501.1 L85.56 500.46 L82.81 499.76 L80.24 499.02 L77.85 498.22 L75.62 497.36 L73.55 496.44 L71.61 495.45 L69.8 494.4 L68.12 493.26 L66.55 492.04 L65.09 490.74 L63.73 489.33 L62.46 487.83 L61.27 486.22 L60.17 484.49 L59.14 482.63 L58.18 480.64 L57.29 478.5 L56.45 476.21 L55.68 473.75 L54.95 471.11 L54.28 468.28 L53.65 465.25 L53.06 461.99 L52.51 458.5 L52 454.75 L51.53 450.73 L51.09 446.41 L50.67 441.79 L50.29 436.82 L49.93 431.5 L49.6 425.79 L49.28 419.66 L48.99 413.08 L48.72 406.03 L48.47 398.47 L48.23 390.35 L48.02 381.64 L47.81 372.3 L47.62 362.28 L47.44 351.53 L47.28 340 L45 340Z" fill="#08519c"/>
<path d="M45 510 L356 510 L356 509.06 L333.72 508.99 L313.04 508.92 L293.84 508.83 L276.01 508.74 L259.47 508.64 L244.1 508.54 L229.84 508.43 L216.6 508.31 L204.31 508.17 L192.9 508.03 L182.3 507.88 L172.47 507.72 L163.34 507.54 L154.86 507.35 L146.99 507.15 L139.68 506.93 L132.9 506.69 L126.6 506.44 L120.76 506.16 L115.33 505.87 L110.29 505.55 L105.62 505.2 L101.27 504.83 L97.24 504.43 L93.5 504 L90.03 503.54 L86.8 503.04 L83.81 502.51 L81.03 501.93 L78.45 501.31 L76.05 500.63 L73.83 499.91 L71.76 499.13 L69.84 498.3 L68.06 497.39 L66.41 496.42 L64.88 495.37 L63.45 494.24 L62.13 493.03 L60.91 491.72 L59.77 490.31 L58.71 488.79 L57.73 487.15 L56.81 485.39 L55.97 483.49 L55.18 481.44 L54.45 479.24 L53.78 476.87 L53.15 474.31 L52.56 471.56 L52.02 468.59 L51.52 465.39 L51.05 461.95 L50.62 458.24 L50.22 454.25 L49.84 449.95 L49.5 445.32 L49.17 440.32 L48.87 434.95 L48.6 429.16 L48.34 422.92 L48.1 416.2 L47.88 408.96 L47.67 401.17 L47.48 392.77 L47.3 383.72 L47.14 373.98 L46.98 363.48 L46.84 352.18 L46.71 340 L45 340Z" fill="#08306b"/>
<path d="M356 509.06 L333.72 508.99 L313.04 508.92 L293.84 508.83 L276.01 508.74 L259.47 508.64 L244.1 508.54 L229.84 508.43 L216.6 508.31 L204.31 508.17 L192.9 508.03 L182.3 507.88 L172.47 507.72 L163.34 507.54 L154.86 507.35 L146.99 507.15 L139.68 506.93 L132.9 506.69 L126.6 506.44 L120.76 506.16 L115.33 505.87 L110.29 505.55 L105.62 505.2 L101.27 504.83 L97.24 504.43 L93.5 504 L90.03 503.54 L86.8 503.04 L83.81 502.51 L81.03 501.93 L78.45 501.31 L76.05 500.63 L73.83 499.91 L71.76 499.13 L69.84 498.3 L68.06 497.39 L66.41 496.42 L64.88 495.37 L63.45 494.24 L62.13 493.03 L60.91 491.72 L59.77 490.31 L58.71 488.79 L57.73 487.15 L56.81 485.39 L55.97 483.49 L55.18 481.44 L54.45 479.24 L53.78 476.87 L53.15 474.31 L52.56 471.56 L52.02 468.59 L51.52 465.39 L51.05 461.95 L50.62 458.24 L50.22 454.25 L49.84 449.95 L49.5 445.32 L49.17 440.32 L48.87 434.95 L48.6 429.16 L48.34 422.92 L48.1 416.2 L47.88 408.96 L47.67 401.17 L47.48 392.77 L47.3 383.72 L47.14 373.98 L46.98 363.48 L46.84 352.18 L46.71 340 M356 508.76 L334.9 508.66 L315.24 508.57 L296.91 508.46 L279.82 508.35 L263.89 508.23 L249.04 508.1 L235.2 507.97 L222.3 507.82 L210.27 507.66 L199.06 507.49 L188.61 507.3 L178.87 507.11 L169.79 506.9 L161.32 506.67 L153.43 506.43 L146.08 506.17 L139.22 505.89 L132.83 505.59 L126.87 505.27 L121.32 504.93 L116.14 504.56 L111.32 504.16 L106.82 503.74 L102.62 503.28 L98.72 502.79 L95.07 502.27 L91.67 501.71 L88.51 501.1 L85.56 500.46 L82.81 499.76 L80.24 499.02 L77.85 498.22 L75.62 497.36 L73.55 496.44 L71.61 495.45 L69.8 494.4 L68.12 493.26 L66.55 492.04 L65.09 490.74 L63.73 489.33 L62.46 487.83 L61.27 486.22 L60.17 484.49 L59.14 482.63 L58.18 480.64 L57.29 478.5 L56.45 476.21 L55.68 473.75 L54.95 471.11 L54.28 468.28 L53.65 465.25 L53.06 461.99 L52.51 458.5 L52 454.75 L51.53 450.73 L51.09 446.41 L50.67 441.79 L50.29 436.82 L49.93 431.5 L49.6 425.79 L49.28 419.66 L48.99 413.08 L48.72 406.03 L48.47 398.47 L48.23 390.35 L48.02 381.64 L47.81 372.3 L47.62 362.28 L47.44 351.53 L47.28 340 M356 508.38 L335.99 508.27 L317.26 508.15 L299.74 508.03 L283.35 507.89 L268.01 507.75 L253.66 507.59 L240.23 507.43 L227.67 507.25 L215.91 507.06 L204.92 506.86 L194.62 506.64 L185 506.41 L175.99 506.16 L167.56 505.9 L159.67 505.62 L152.29 505.32 L145.39 504.99 L138.93 504.65 L132.88 504.28 L127.23 503.89 L121.94 503.47 L116.99 503.02 L112.35 502.54 L108.02 502.03 L103.96 501.48 L100.17 500.89 L96.62 500.27 L93.3 499.6 L90.19 498.88 L87.28 498.12 L84.56 497.3 L82.01 496.42 L79.63 495.49 L77.4 494.49 L75.32 493.43 L73.37 492.29 L71.54 491.07 L69.83 489.77 L68.24 488.38 L66.74 486.89 L65.34 485.3 L64.03 483.6 L62.81 481.78 L61.66 479.84 L60.59 477.77 L59.59 475.55 L58.65 473.18 L57.77 470.65 L56.95 467.94 L56.18 465.05 L55.46 461.96 L54.79 458.66 L54.16 455.13 L53.57 451.35 L53.02 447.32 L52.5 443.01 L52.02 438.4 L51.57 433.47 L51.14 428.21 L50.75 422.59 L50.38 416.57 L50.03 410.15 L49.71 403.28 L49.41 395.94 L49.12 388.1 L48.86 379.71 L48.61 370.75 L48.38 361.18 L48.16 350.94 L47.96 340 M356 507.95 L336.99 507.81 L319.14 507.67 L302.38 507.52 L286.64 507.36 L271.87 507.18 L258 507 L244.98 506.81 L232.75 506.6 L221.27 506.38 L210.5 506.14 L200.38 505.89 L190.88 505.62 L181.96 505.34 L173.59 505.03 L165.73 504.71 L158.35 504.36 L151.42 504 L144.91 503.61 L138.8 503.19 L133.07 502.75 L127.68 502.27 L122.63 501.77 L117.88 501.23 L113.43 500.66 L109.24 500.06 L105.32 499.41 L101.63 498.72 L98.17 497.98 L94.92 497.2 L91.86 496.37 L89 495.48 L86.31 494.53 L83.78 493.53 L81.41 492.46 L79.19 491.31 L77.1 490.1 L75.13 488.8 L73.29 487.42 L71.56 485.95 L69.94 484.38 L68.41 482.71 L66.98 480.94 L65.64 479.05 L64.38 477.03 L63.19 474.88 L62.08 472.6 L61.04 470.16 L60.06 467.57 L59.13 464.8 L58.27 461.86 L57.46 458.73 L56.7 455.39 L55.98 451.83 L55.31 448.04 L54.68 444.01 L54.09 439.71 L53.53 435.13 L53.01 430.26 L52.52 425.07 L52.06 419.54 L51.63 413.65 L51.22 407.37 L50.84 400.69 L50.49 393.57 L50.15 385.99 L49.84 377.91 L49.54 369.31 L49.26 360.15 L49 350.39 L48.76 340 M356 507.43 L337.92 507.28 L320.88 507.11 L304.84 506.93 L289.73 506.74 L275.5 506.54 L262.1 506.32 L249.47 506.1 L237.58 505.86 L226.38 505.6 L215.84 505.33 L205.9 505.04 L196.55 504.73 L187.73 504.41 L179.43 504.06 L171.62 503.7 L164.25 503.31 L157.32 502.9 L150.79 502.46 L144.64 501.99 L138.84 501.5 L133.39 500.97 L128.25 500.42 L123.41 499.82 L118.85 499.19 L114.55 498.53 L110.51 497.82 L106.7 497.07 L103.11 496.27 L99.73 495.42 L96.55 494.52 L93.55 493.57 L90.73 492.55 L88.07 491.47 L85.57 490.33 L83.21 489.12 L80.98 487.83 L78.89 486.46 L76.92 485 L75.07 483.46 L73.32 481.82 L71.67 480.08 L70.12 478.24 L68.66 476.27 L67.28 474.19 L65.99 471.98 L64.77 469.63 L63.62 467.14 L62.53 464.5 L61.52 461.69 L60.55 458.7 L59.65 455.54 L58.8 452.17 L58 448.6 L57.24 444.81 L56.53 440.79 L55.86 436.52 L55.23 431.98 L54.63 427.16 L54.07 422.05 L53.54 416.62 L53.05 410.85 L52.58 404.73 L52.14 398.23 L51.72 391.33 L51.33 384 L50.96 376.22 L50.62 367.97 L50.29 359.2 L49.98 349.89 L49.69 340 M356 506.84 L338.78 506.66 L322.52 506.46 L307.16 506.26 L292.64 506.04 L278.93 505.8 L265.98 505.56 L253.75 505.3 L242.19 505.02 L231.28 504.73 L220.96 504.42 L211.22 504.1 L202.02 503.75 L193.33 503.38 L185.12 503 L177.36 502.59 L170.03 502.15 L163.11 501.69 L156.57 501.2 L150.39 500.69 L144.56 500.14 L139.05 499.56 L133.84 498.95 L128.92 498.31 L124.28 497.62 L119.89 496.9 L115.74 496.13 L111.83 495.31 L108.13 494.45 L104.63 493.54 L101.33 492.58 L98.21 491.56 L95.27 490.48 L92.48 489.33 L89.86 488.12 L87.37 486.84 L85.03 485.48 L82.81 484.04 L80.72 482.52 L78.74 480.91 L76.87 479.21 L75.11 477.4 L73.44 475.49 L71.87 473.47 L70.38 471.33 L68.97 469.06 L67.65 466.67 L66.39 464.13 L65.21 461.44 L64.09 458.59 L63.03 455.58 L62.03 452.39 L61.09 449.01 L60.2 445.44 L59.36 441.65 L58.56 437.65 L57.81 433.41 L57.1 428.92 L56.43 424.17 L55.8 419.14 L55.2 413.81 L54.64 408.18 L54.1 402.21 L53.6 395.89 L53.12 389.21 L52.67 382.13 L52.25 374.63 L51.85 366.7 L51.47 358.3 L51.11 349.41 L50.77 340 M356 506.17 L339.6 505.96 L324.06 505.73 L309.34 505.49 L295.4 505.24 L282.19 504.98 L269.68 504.7 L257.83 504.4 L246.6 504.09 L235.97 503.76 L225.9 503.42 L216.36 503.05 L207.32 502.66 L198.76 502.25 L190.65 501.82 L182.97 501.37 L175.69 500.89 L168.8 500.38 L162.27 499.84 L156.08 499.28 L150.22 498.68 L144.67 498.05 L139.42 497.38 L134.44 496.68 L129.72 495.94 L125.25 495.16 L121.02 494.33 L117.01 493.46 L113.21 492.54 L109.61 491.57 L106.2 490.54 L102.98 489.46 L99.92 488.31 L97.02 487.1 L94.28 485.83 L91.68 484.48 L89.22 483.06 L86.88 481.56 L84.68 479.98 L82.58 478.31 L80.6 476.54 L78.72 474.68 L76.94 472.71 L75.26 470.64 L73.66 468.45 L72.15 466.13 L70.72 463.69 L69.36 461.11 L68.08 458.39 L66.86 455.52 L65.71 452.48 L64.62 449.28 L63.58 445.9 L62.6 442.33 L61.67 438.56 L60.79 434.58 L59.96 430.39 L59.17 425.95 L58.42 421.27 L57.72 416.33 L57.05 411.12 L56.41 405.61 L55.81 399.8 L55.24 393.66 L54.7 387.18 L54.19 380.35 L53.7 373.13 L53.24 365.51 L52.81 357.46 L52.4 348.97 L52.01 340 M356 505.41 L340.36 505.16 L325.51 504.91 L311.41 504.64 L298.01 504.35 L285.29 504.05 L273.21 503.74 L261.74 503.41 L250.84 503.06 L240.49 502.69 L230.66 502.31 L221.33 501.9 L212.46 501.47 L204.04 501.02 L196.04 500.54 L188.45 500.04 L181.24 499.51 L174.39 498.96 L167.88 498.37 L161.7 497.76 L155.84 497.11 L150.26 496.43 L144.97 495.71 L139.94 494.95 L135.17 494.16 L130.64 493.32 L126.33 492.43 L122.24 491.5 L118.36 490.53 L114.67 489.49 L111.17 488.41 L107.84 487.27 L104.68 486.06 L101.68 484.79 L98.83 483.46 L96.12 482.06 L93.55 480.58 L91.11 479.02 L88.79 477.38 L86.59 475.65 L84.5 473.83 L82.51 471.92 L80.63 469.9 L78.84 467.78 L77.13 465.54 L75.52 463.19 L73.98 460.71 L72.53 458.1 L71.14 455.35 L69.83 452.46 L68.58 449.41 L67.39 446.21 L66.27 442.83 L65.2 439.27 L64.18 435.53 L63.22 431.59 L62.3 427.44 L61.43 423.06 L60.61 418.46 L59.82 413.62 L59.08 408.51 L58.37 403.14 L57.7 397.48 L57.06 391.53 L56.45 385.25 L55.88 378.65 L55.33 371.7 L54.81 364.37 L54.32 356.67 L53.85 348.55 L53.4 340 M356 504.55 L341.09 504.27 L326.89 503.98 L313.37 503.68 L300.5 503.36 L288.25 503.03 L276.59 502.68 L265.48 502.31 L254.91 501.92 L244.85 501.51 L235.26 501.09 L226.14 500.64 L217.46 500.17 L209.19 499.67 L201.31 499.15 L193.82 498.6 L186.68 498.03 L179.89 497.43 L173.42 496.79 L167.26 496.13 L161.4 495.43 L155.82 494.7 L150.51 493.93 L145.45 493.12 L140.63 492.27 L136.04 491.37 L131.68 490.44 L127.52 489.45 L123.57 488.41 L119.8 487.33 L116.21 486.19 L112.8 484.99 L109.55 483.73 L106.45 482.4 L103.5 481.01 L100.7 479.55 L98.03 478.02 L95.49 476.41 L93.07 474.72 L90.76 472.94 L88.57 471.07 L86.48 469.11 L84.49 467.05 L82.59 464.89 L80.79 462.62 L79.08 460.23 L77.44 457.73 L75.89 455.09 L74.41 452.33 L73 449.42 L71.65 446.37 L70.37 443.17 L69.16 439.8 L68 436.27 L66.9 432.55 L65.85 428.65 L64.85 424.56 L63.9 420.25 L62.99 415.73 L62.13 410.98 L61.31 406 L60.52 400.76 L59.78 395.26 L59.07 389.48 L58.4 383.41 L57.75 377.03 L57.14 370.33 L56.56 363.3 L56.01 355.91 L55.48 348.15 L54.98 340 M356 503.59 L341.77 503.28 L328.2 502.96 L315.25 502.62 L302.88 502.27 L291.09 501.9 L279.83 501.51 L269.09 501.1 L258.84 500.67 L249.06 500.23 L239.72 499.76 L230.82 499.27 L222.32 498.75 L214.21 498.21 L206.47 497.65 L199.08 497.06 L192.03 496.44 L185.31 495.78 L178.89 495.1 L172.77 494.39 L166.92 493.64 L161.34 492.86 L156.02 492.04 L150.94 491.17 L146.1 490.27 L141.47 489.33 L137.06 488.34 L132.85 487.3 L128.83 486.21 L125 485.07 L121.34 483.87 L117.85 482.62 L114.51 481.31 L111.33 479.93 L108.3 478.49 L105.4 476.98 L102.64 475.4 L100.01 473.74 L97.49 472 L95.09 470.18 L92.8 468.27 L90.61 466.27 L88.52 464.18 L86.53 461.98 L84.63 459.68 L82.82 457.26 L81.09 454.74 L79.44 452.09 L77.86 449.31 L76.36 446.4 L74.93 443.35 L73.56 440.16 L72.25 436.81 L71.01 433.3 L69.82 429.63 L68.68 425.78 L67.6 421.74 L66.56 417.51 L65.58 413.07 L64.64 408.43 L63.74 403.56 L62.88 398.46 L62.06 393.11 L61.28 387.51 L60.54 381.64 L59.83 375.48 L59.15 369.03 L58.5 362.28 L57.88 355.2 L57.29 347.78 L56.73 340 M356 502.52 L342.43 502.18 L329.45 501.82 L317.03 501.45 L305.16 501.06 L293.81 500.65 L282.95 500.22 L272.57 499.78 L262.63 499.31 L253.14 498.82 L244.05 498.31 L235.37 497.78 L227.06 497.22 L219.11 496.64 L211.51 496.03 L204.25 495.39 L197.3 494.73 L190.65 494.03 L184.29 493.3 L178.22 492.54 L172.4 491.74 L166.84 490.91 L161.52 490.04 L156.44 489.13 L151.58 488.17 L146.92 487.18 L142.48 486.13 L138.22 485.05 L134.15 483.91 L130.26 482.72 L126.54 481.47 L122.98 480.17 L119.58 478.81 L116.33 477.39 L113.21 475.9 L110.24 474.34 L107.39 472.71 L104.67 471.01 L102.06 469.23 L99.57 467.37 L97.19 465.43 L94.91 463.39 L92.73 461.27 L90.65 459.04 L88.66 456.72 L86.75 454.29 L84.93 451.74 L83.19 449.08 L81.52 446.3 L79.93 443.4 L78.4 440.36 L76.95 437.18 L75.55 433.86 L74.22 430.38 L72.94 426.75 L71.72 422.95 L70.56 418.98 L69.44 414.83 L68.38 410.48 L67.36 405.94 L66.38 401.19 L65.45 396.23 L64.55 391.04 L63.7 385.61 L62.88 379.93 L62.1 374 L61.36 367.79 L60.64 361.3 L59.96 354.51 L59.31 347.42 L58.68 340" fill="none" stroke="#000" stroke-width="0.68" stroke-linejoin="round"/>
</g>
<rect x="356" y="0" width="311" height="1" fill="#000" fill-opacity="0.35"/>
<path d="M356 510 L667 170" stroke="#000" stroke-width="1.35" fill="none"/>
<path d="M356 510 h4.5 M459.67 396.67 h4.5 M563.33 283.33 h4.5 M667 170 h4.5" stroke="#000" stroke-width="1.4" fill="none"/>
<path d="M45 510 v2.4 M51.22 510 v1.4 M57.44 510 v1.4 M63.66 510 v1.4 M69.88 510 v1.4 M76.1 510 v2.4 M82.32 510 v1.4 M88.54 510 v1.4 M94.76 510 v1.4 M100.98 510 v1.4 M107.2 510 v2.4 M113.42 510 v1.4 M119.64 510 v1.4 M125.86 510 v1.4 M132.08 510 v1.4 M138.3 510 v2.4 M144.52 510 v1.4 M150.74 510 v1.4 M156.96 510 v1.4 M163.18 510 v1.4 M169.4 510 v2.4 M175.62 510 v1.4 M181.84 510 v1.4 M188.06 510 v1.4 M194.28 510 v1.4 M200.5 510 v2.4 M206.72 510 v1.4 M212.94 510 v1.4 M219.16 510 v1.4 M225.38 510 v1.4 M231.6 510 v2.4 M237.82 510 v1.4 M244.04 510 v1.4 M250.26 510 v1.4 M256.48 510 v1.4 M262.7 510 v2.4 M268.92 510 v1.4 M275.14 510 v1.4 M281.36 510 v1.4 M287.58 510 v1.4 M293.8 510 v2.4 M300.02 510 v1.4 M306.24 510 v1.4 M312.46 510 v1.4 M318.68 510 v1.4 M324.9 510 v2.4 M331.12 510 v1.4 M337.34 510 v1.4 M343.56 510 v1.4 M349.78 510 v1.4 M356 510 v2.4 M45 510 h-2.4 M45 503.2 h-1.4 M45 496.4 h-1.4 M45 489.6 h-1.4 M45 482.8 h-1.4 M45 476 h-2.4 M45 469.2 h-1.4 M45 462.4 h-1.4 M45 455.6 h-1.4 M45 448.8 h-1.4 M45 442 h-2.4 M45 435.2 h-1.4 M45 428.4 h-1.4 M45 421.6 h-1.4 M45 414.8 h-1.4 M45 408 h-2.4 M45 401.2 h-1.4 M45 394.4 h-1.4 M45 387.6 h-1.4 M45 380.8 h-1.4 M45 374 h-2.4 M45 367.2 h-1.4 M45 360.4 h-1.4 M45 353.6 h-1.4 M45 346.8 h-1.4 M45 340 h-2.4" stroke="#3a3a46" stroke-width="0.8" fill="none"/>
<text x="45" y="528.9" font-size="19.2" text-anchor="middle">0</text>
<text x="76.1" y="528.9" font-size="19.2" text-anchor="middle">2</text>
<text x="107.2" y="528.9" font-size="19.2" text-anchor="middle">4</text>
<text x="138.3" y="528.9" font-size="19.2" text-anchor="middle">6</text>
<text x="169.4" y="528.9" font-size="19.2" text-anchor="middle">8</text>
<text x="200.5" y="528.9" font-size="19.2" text-anchor="middle">10</text>
<text x="231.6" y="528.9" font-size="19.2" text-anchor="middle">12</text>
<text x="262.7" y="528.9" font-size="19.2" text-anchor="middle">14</text>
<text x="293.8" y="528.9" font-size="19.2" text-anchor="middle">16</text>
<text x="324.9" y="528.9" font-size="19.2" text-anchor="middle">18</text>
<text x="356" y="528.9" font-size="19.2" text-anchor="middle">20</text>
<text x="41.8" y="515.6" font-size="19.2" text-anchor="end">0</text>
<text x="41.8" y="481.6" font-size="19.2" text-anchor="end">4</text>
<text x="41.8" y="447.6" font-size="19.2" text-anchor="end">8</text>
<text x="41.8" y="413.6" font-size="19.2" text-anchor="end">12</text>
<text x="41.8" y="379.6" font-size="19.2" text-anchor="end">16</text>
<text x="41.8" y="345.6" font-size="19.2" text-anchor="end">20</text>
<text x="202.3" y="547.6" font-size="19.2" text-anchor="middle">Effective transmission length (km)</text>
<text transform="translate(13.6 423.8) rotate(-90)" font-size="19.2" text-anchor="middle">Transmission power (kW)</text>
<text transform="matrix(0.6824 -0.7447 0.95 0 577 344.5)" font-size="19.2" text-anchor="middle" stroke="#000" stroke-width="0.25">Fiber offset (µm)</text>
<text transform="matrix(1.01 0 -0.7026 0.7668 359.2 514.6)" font-size="19.2" stroke="#000" stroke-width="0.2">1.4</text>
<text transform="matrix(1.01 0 -0.7026 0.7668 462.87 401.27)" font-size="19.2" stroke="#000" stroke-width="0.2">0.8</text>
<text transform="matrix(1.01 0 -0.7026 0.7668 566.53 287.93)" font-size="19.2" stroke="#000" stroke-width="0.2">0.4</text>
<text transform="matrix(1.01 0 -0.7026 0.7668 670.2 174.6)" font-size="19.2" stroke="#000" stroke-width="0.2">0</text>
<rect x="10" y="3.5" width="36.5" height="18" fill="#e6d9e8"/>
<path d="M53.4 8.9 L65.2 13.45 L53.4 18" fill="none" stroke="#000" stroke-width="0.95"/>
<text x="67.2" y="18.3" font-size="16">40 µm</text>
<rect x="10.3" y="24" width="36" height="17.6" fill="#82438e" stroke="#1a1a2a" stroke-width="0.6"/>
<text x="50.8" y="38.6" font-size="16">40 µm</text>
<rect x="10.3" y="44.3" width="36" height="17.6" fill="#965ea2" stroke="#1a1a2a" stroke-width="0.6"/>
<text x="50.8" y="58.9" font-size="16">38 µm</text>
<rect x="10.3" y="64.6" width="36" height="17.6" fill="#ae76b3" stroke="#1a1a2a" stroke-width="0.6"/>
<text x="50.8" y="79.2" font-size="16">36 µm</text>
<rect x="10.3" y="84.9" width="36" height="17.6" fill="#d1a7d6" stroke="#1a1a2a" stroke-width="0.6"/>
<text x="50.8" y="99.5" font-size="16">34 µm</text>
<rect x="10.3" y="105.2" width="36" height="17.6" fill="#f8dcf8" stroke="#1a1a2a" stroke-width="0.6"/>
<text x="50.8" y="119.8" font-size="16">32 µm</text>
<rect x="10.3" y="125.5" width="36" height="17.6" fill="#9ecae1" stroke="#1a1a2a" stroke-width="0.6"/>
<text x="50.8" y="140.1" font-size="16">30 µm</text>
<rect x="10.3" y="145.8" width="36" height="17.6" fill="#6baed6" stroke="#1a1a2a" stroke-width="0.6"/>
<text x="50.8" y="160.4" font-size="16">28 µm</text>
<rect x="10.3" y="166.1" width="36" height="17.6" fill="#4292c6" stroke="#1a1a2a" stroke-width="0.6"/>
<text x="50.8" y="180.7" font-size="16">26 µm</text>
<rect x="10.3" y="186.4" width="36" height="17.6" fill="#2171b5" stroke="#1a1a2a" stroke-width="0.6"/>
<text x="50.8" y="201" font-size="16">24 µm</text>
<rect x="10.3" y="206.7" width="36" height="17.6" fill="#08519c" stroke="#1a1a2a" stroke-width="0.6"/>
<text x="50.8" y="221.3" font-size="16">22 µm</text>
<rect x="10.3" y="227" width="36" height="17.6" fill="#08306b" stroke="#1a1a2a" stroke-width="0.6"/>
<text x="50.8" y="241.6" font-size="16">20 µm</text>
</svg></body></html>
